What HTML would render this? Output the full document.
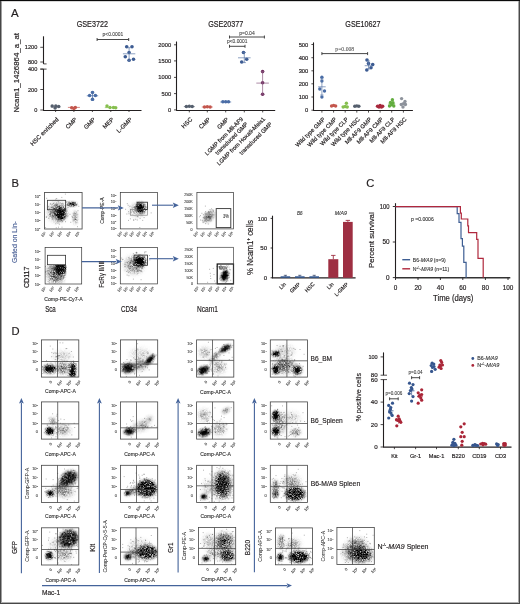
<!DOCTYPE html>
<html><head><meta charset="utf-8"><style>
html,body{margin:0;padding:0;background:#fff;width:520px;height:604px;overflow:hidden}
svg{display:block;font-family:"Liberation Sans", sans-serif;will-change:transform}
</style></head><body>
<svg width="520" height="604" viewBox="0 0 520 604">
<defs>
<filter id="bl" x="-50%" y="-50%" width="200%" height="200%"><feGaussianBlur stdDeviation="0.7"/></filter>
<filter id="bl2" x="-50%" y="-50%" width="200%" height="200%"><feGaussianBlur stdDeviation="1.2"/></filter>
<filter id="g1" x="-60%" y="-60%" width="220%" height="220%" color-interpolation-filters="sRGB"><feGaussianBlur in="SourceGraphic" stdDeviation="1.0" result="b"/><feTurbulence type="fractalNoise" baseFrequency="1.5" numOctaves="2" seed="3" result="n"/><feColorMatrix in="n" type="matrix" values="0 0 0 0 0  0 0 0 0 0  0 0 0 0 0  1.8 0 0 0 -0.3" result="na"/><feComposite in="b" in2="na" operator="arithmetic" k1="1.7" k2="0" k3="0" k4="0"/></filter><filter id="g2" x="-60%" y="-60%" width="220%" height="220%" color-interpolation-filters="sRGB"><feGaussianBlur in="SourceGraphic" stdDeviation="1.6" result="b"/><feTurbulence type="fractalNoise" baseFrequency="1.5" numOctaves="2" seed="3" result="n"/><feColorMatrix in="n" type="matrix" values="0 0 0 0 0  0 0 0 0 0  0 0 0 0 0  1.8 0 0 0 -0.3" result="na"/><feComposite in="b" in2="na" operator="arithmetic" k1="1.7" k2="0" k3="0" k4="0"/></filter><filter id="g3" x="-60%" y="-60%" width="220%" height="220%" color-interpolation-filters="sRGB"><feGaussianBlur in="SourceGraphic" stdDeviation="2.4" result="b"/><feTurbulence type="fractalNoise" baseFrequency="1.5" numOctaves="2" seed="3" result="n"/><feColorMatrix in="n" type="matrix" values="0 0 0 0 0  0 0 0 0 0  0 0 0 0 0  1.8 0 0 0 -0.3" result="na"/><feComposite in="b" in2="na" operator="arithmetic" k1="1.7" k2="0" k3="0" k4="0"/></filter>
</defs>
<rect x="0" y="0" width="520" height="604" fill="#fff"/>
<rect x="0" y="0" width="1" height="604" fill="#474747"/><rect x="1" y="1" width="1" height="602" fill="#a0a0a0"/>
<rect x="519" y="0" width="1" height="604" fill="#4a4a4a"/><rect x="518" y="1" width="1" height="602" fill="#a8a8a8"/>
<rect x="0" y="603" width="520" height="1" fill="#474747"/><rect x="1" y="602" width="518" height="1" fill="#b0b0b0"/>
<rect x="0" y="0" width="520" height="1" fill="#0a0a0a"/><rect x="2" y="1" width="516" height="1" fill="#d8d8d8"/>
<text x="11.1" y="16.5" font-size="11.5" fill="#231f20" stroke="#231f20" stroke-width="0.18">A</text>
<text x="76.7" y="26.5" font-size="8.2" fill="#231f20" stroke="#231f20" stroke-width="0.18" textLength="31.3" lengthAdjust="spacingAndGlyphs">GSE3722</text>
<line x1="43.5" y1="36.3" x2="43.5" y2="63.9" stroke="#231f20" stroke-width="1.1"/>
<line x1="43.5" y1="69.1" x2="43.5" y2="110.9" stroke="#231f20" stroke-width="1.1"/>
<line x1="43.5" y1="63.9" x2="46.6" y2="63.9" stroke="#231f20" stroke-width="0.8"/>
<line x1="40.3" y1="69.1" x2="46.6" y2="69.1" stroke="#231f20" stroke-width="0.8"/>
<line x1="40.3" y1="47.3" x2="43.5" y2="47.3" stroke="#231f20" stroke-width="0.8"/>
<text x="37.3" y="49.3" font-size="5.6" fill="#231f20" stroke="#231f20" stroke-width="0.18" text-anchor="end">1200</text>
<line x1="40.3" y1="62" x2="43.5" y2="62" stroke="#231f20" stroke-width="0.8"/>
<text x="37.3" y="64" font-size="5.6" fill="#231f20" stroke="#231f20" stroke-width="0.18" text-anchor="end">800</text>
<line x1="40.3" y1="69.1" x2="43.5" y2="69.1" stroke="#231f20" stroke-width="0.8"/>
<text x="37.3" y="71.1" font-size="5.6" fill="#231f20" stroke="#231f20" stroke-width="0.18" text-anchor="end">400</text>
<line x1="40.3" y1="89.5" x2="43.5" y2="89.5" stroke="#231f20" stroke-width="0.8"/>
<text x="37.3" y="91.5" font-size="5.6" fill="#231f20" stroke="#231f20" stroke-width="0.18" text-anchor="end">200</text>
<line x1="40.3" y1="110" x2="43.5" y2="110" stroke="#231f20" stroke-width="0.8"/>
<text x="37.3" y="112" font-size="5.6" fill="#231f20" stroke="#231f20" stroke-width="0.18" text-anchor="end">0</text>
<line x1="43.5" y1="110.5" x2="141.5" y2="110.5" stroke="#231f20" stroke-width="1.1"/>
<line x1="55.6" y1="110" x2="55.6" y2="112" stroke="#231f20" stroke-width="0.8"/>
<line x1="73.9" y1="110" x2="73.9" y2="112" stroke="#231f20" stroke-width="0.8"/>
<line x1="92.4" y1="110" x2="92.4" y2="112" stroke="#231f20" stroke-width="0.8"/>
<line x1="110.8" y1="110" x2="110.8" y2="112" stroke="#231f20" stroke-width="0.8"/>
<line x1="129" y1="110" x2="129" y2="112" stroke="#231f20" stroke-width="0.8"/>
<text x="19.5" y="72.8" font-size="7.3" fill="#231f20" stroke="#231f20" stroke-width="0.18" text-anchor="middle" transform="rotate(-90 19.5 72.8)" textLength="79.5" lengthAdjust="spacingAndGlyphs">Ncam1_1426864_a_at</text>
<circle cx="52.2" cy="105.9" r="1.75" fill="#56606e"/>
<circle cx="55.8" cy="105.9" r="1.75" fill="#56606e"/>
<circle cx="58.7" cy="106.4" r="1.75" fill="#56606e"/>
<circle cx="55.1" cy="108.1" r="1.75" fill="#56606e"/>
<line x1="50.8" y1="107" x2="60.4" y2="107" stroke="#56606e" stroke-width="0.7"/>
<circle cx="71.7" cy="107.8" r="1.75" fill="#c4574e"/>
<circle cx="75.3" cy="107.4" r="1.75" fill="#c4574e"/>
<circle cx="73.9" cy="108.6" r="1.75" fill="#c4574e"/>
<line x1="67.9" y1="107.4" x2="79.9" y2="107.4" stroke="#c4574e" stroke-width="0.7"/>
<circle cx="107" cy="105.9" r="1.75" fill="#86bf4f"/>
<circle cx="110" cy="107.4" r="1.75" fill="#86bf4f"/>
<circle cx="113.5" cy="107.4" r="1.75" fill="#86bf4f"/>
<circle cx="115.7" cy="107.8" r="1.75" fill="#86bf4f"/>
<line x1="104.8" y1="107.6" x2="116.8" y2="107.6" stroke="#86bf4f" stroke-width="0.7"/>
<circle cx="92.5" cy="92.5" r="1.75" fill="#4a6da6"/>
<circle cx="89.6" cy="95.4" r="1.75" fill="#4a6da6"/>
<circle cx="95.4" cy="95.4" r="1.75" fill="#4a6da6"/>
<circle cx="92.5" cy="99.2" r="1.75" fill="#4a6da6"/>
<line x1="86.8" y1="95.8" x2="98.2" y2="95.8" stroke="#4a6da6" stroke-width="0.7"/>
<line x1="92.5" y1="91.8" x2="92.5" y2="100.5" stroke="#4a6da6" stroke-width="0.7"/>
<line x1="90.9" y1="91.8" x2="94.1" y2="91.8" stroke="#4a6da6" stroke-width="0.7"/>
<line x1="90.9" y1="100.5" x2="94.1" y2="100.5" stroke="#4a6da6" stroke-width="0.7"/>
<circle cx="126.7" cy="46.8" r="1.8" fill="#3c5b92"/>
<circle cx="132" cy="46.8" r="1.8" fill="#3c5b92"/>
<circle cx="129.1" cy="52.5" r="1.8" fill="#3c5b92"/>
<circle cx="125.3" cy="56.7" r="1.8" fill="#3c5b92"/>
<circle cx="129.1" cy="60.2" r="1.8" fill="#3c5b92"/>
<circle cx="133.5" cy="59.3" r="1.8" fill="#3c5b92"/>
<line x1="122.9" y1="53.8" x2="135.3" y2="53.8" stroke="#5b78a8" stroke-width="0.7"/>
<line x1="129.1" y1="47.7" x2="129.1" y2="60.7" stroke="#5b78a8" stroke-width="0.7"/>
<line x1="127.5" y1="47.7" x2="130.7" y2="47.7" stroke="#5b78a8" stroke-width="0.7"/>
<line x1="127.5" y1="60.7" x2="130.7" y2="60.7" stroke="#5b78a8" stroke-width="0.7"/>
<line x1="97.1" y1="39.5" x2="128.7" y2="39.5" stroke="#333" stroke-width="0.9"/>
<line x1="97.1" y1="38" x2="97.1" y2="41" stroke="#333" stroke-width="0.9"/>
<line x1="128.7" y1="38" x2="128.7" y2="41" stroke="#333" stroke-width="0.9"/>
<text x="112.9" y="36.3" font-size="5" fill="#3a3a3a" stroke="#3a3a3a" stroke-width="0.07" text-anchor="middle" textLength="20.7" lengthAdjust="spacingAndGlyphs">p&lt;0.0001</text>
<text x="59.1" y="119.8" font-size="6" fill="#231f20" stroke="#231f20" stroke-width="0.18" text-anchor="end" transform="rotate(-45 59.1 119.8)">HSC enriched</text>
<text x="77.4" y="119.8" font-size="6" fill="#231f20" stroke="#231f20" stroke-width="0.18" text-anchor="end" transform="rotate(-45 77.4 119.8)">CMP</text>
<text x="95.9" y="119.8" font-size="6" fill="#231f20" stroke="#231f20" stroke-width="0.18" text-anchor="end" transform="rotate(-45 95.9 119.8)">GMP</text>
<text x="114.3" y="119.8" font-size="6" fill="#231f20" stroke="#231f20" stroke-width="0.18" text-anchor="end" transform="rotate(-45 114.3 119.8)">MEP</text>
<text x="132.5" y="119.8" font-size="6" fill="#231f20" stroke="#231f20" stroke-width="0.18" text-anchor="end" transform="rotate(-45 132.5 119.8)">L-GMP</text>
<text x="208.2" y="26.5" font-size="8.2" fill="#231f20" stroke="#231f20" stroke-width="0.18" textLength="35.1" lengthAdjust="spacingAndGlyphs">GSE20377</text>
<line x1="176.5" y1="41.5" x2="176.5" y2="110.9" stroke="#231f20" stroke-width="1.1"/>
<line x1="174" y1="44.8" x2="176.5" y2="44.8" stroke="#231f20" stroke-width="0.8"/>
<text x="171.2" y="46.8" font-size="5.8" fill="#231f20" stroke="#231f20" stroke-width="0.18" text-anchor="end">2000</text>
<line x1="174" y1="60.9" x2="176.5" y2="60.9" stroke="#231f20" stroke-width="0.8"/>
<text x="171.2" y="62.9" font-size="5.8" fill="#231f20" stroke="#231f20" stroke-width="0.18" text-anchor="end">1500</text>
<line x1="174" y1="77.4" x2="176.5" y2="77.4" stroke="#231f20" stroke-width="0.8"/>
<text x="171.2" y="79.4" font-size="5.8" fill="#231f20" stroke="#231f20" stroke-width="0.18" text-anchor="end">1000</text>
<line x1="174" y1="93.6" x2="176.5" y2="93.6" stroke="#231f20" stroke-width="0.8"/>
<text x="171.2" y="95.6" font-size="5.8" fill="#231f20" stroke="#231f20" stroke-width="0.18" text-anchor="end">500</text>
<line x1="174" y1="109.9" x2="176.5" y2="109.9" stroke="#231f20" stroke-width="0.8"/>
<text x="171.2" y="111.9" font-size="5.8" fill="#231f20" stroke="#231f20" stroke-width="0.18" text-anchor="end">0</text>
<line x1="176.5" y1="110.5" x2="275.2" y2="110.5" stroke="#231f20" stroke-width="1.1"/>
<line x1="189.3" y1="110" x2="189.3" y2="112.4" stroke="#231f20" stroke-width="0.8"/>
<line x1="207.3" y1="110" x2="207.3" y2="112.4" stroke="#231f20" stroke-width="0.8"/>
<line x1="225.7" y1="110" x2="225.7" y2="112.4" stroke="#231f20" stroke-width="0.8"/>
<line x1="244.3" y1="110" x2="244.3" y2="112.4" stroke="#231f20" stroke-width="0.8"/>
<line x1="262.7" y1="110" x2="262.7" y2="112.4" stroke="#231f20" stroke-width="0.8"/>
<circle cx="186.4" cy="106.4" r="1.75" fill="#56606e"/>
<circle cx="189.3" cy="106.2" r="1.75" fill="#56606e"/>
<circle cx="192.2" cy="106.4" r="1.75" fill="#56606e"/>
<line x1="183.8" y1="106.6" x2="194.8" y2="106.6" stroke="#56606e" stroke-width="0.7"/>
<circle cx="204.5" cy="107" r="1.75" fill="#c4574e"/>
<circle cx="207.3" cy="106.8" r="1.75" fill="#c4574e"/>
<circle cx="210.1" cy="107" r="1.75" fill="#c4574e"/>
<line x1="201.8" y1="107" x2="212.8" y2="107" stroke="#c4574e" stroke-width="0.7"/>
<circle cx="222.9" cy="101.8" r="1.75" fill="#4a6da6"/>
<circle cx="225.7" cy="101.8" r="1.75" fill="#4a6da6"/>
<circle cx="228.5" cy="101.8" r="1.75" fill="#4a6da6"/>
<line x1="220.2" y1="102" x2="231.2" y2="102" stroke="#4a6da6" stroke-width="0.7"/>
<circle cx="243.5" cy="52.5" r="1.8" fill="#3c5b92"/>
<circle cx="246.7" cy="59.3" r="1.8" fill="#3c5b92"/>
<circle cx="241.7" cy="62" r="1.8" fill="#3c5b92"/>
<line x1="238" y1="57.8" x2="250.6" y2="57.8" stroke="#5b78a8" stroke-width="0.7"/>
<line x1="244.3" y1="52.5" x2="244.3" y2="62.6" stroke="#5b78a8" stroke-width="0.7"/>
<line x1="242.7" y1="52.5" x2="245.9" y2="52.5" stroke="#5b78a8" stroke-width="0.7"/>
<line x1="242.7" y1="62.6" x2="245.9" y2="62.6" stroke="#5b78a8" stroke-width="0.7"/>
<circle cx="262.6" cy="71.6" r="1.8" fill="#6e2a5e"/>
<circle cx="262.6" cy="82.7" r="1.8" fill="#6e2a5e"/>
<circle cx="262.6" cy="94.2" r="1.8" fill="#6e2a5e"/>
<line x1="256.3" y1="83.1" x2="268.9" y2="83.1" stroke="#8a5a80" stroke-width="0.7"/>
<line x1="262.6" y1="71.6" x2="262.6" y2="94.2" stroke="#8a5a80" stroke-width="0.7"/>
<line x1="261" y1="71.6" x2="264.2" y2="71.6" stroke="#8a5a80" stroke-width="0.7"/>
<line x1="261" y1="94.2" x2="264.2" y2="94.2" stroke="#8a5a80" stroke-width="0.7"/>
<line x1="229.5" y1="46.3" x2="245" y2="46.3" stroke="#333" stroke-width="0.9"/>
<line x1="229.5" y1="44.8" x2="229.5" y2="47.8" stroke="#333" stroke-width="0.9"/>
<line x1="245" y1="44.8" x2="245" y2="47.8" stroke="#333" stroke-width="0.9"/>
<text x="237.25" y="43.4" font-size="5" fill="#3a3a3a" stroke="#3a3a3a" stroke-width="0.07" text-anchor="middle" textLength="20.5" lengthAdjust="spacingAndGlyphs">p&lt;0.0001</text>
<line x1="229.5" y1="37" x2="264.4" y2="37" stroke="#333" stroke-width="0.9"/>
<line x1="229.5" y1="35.5" x2="229.5" y2="38.5" stroke="#333" stroke-width="0.9"/>
<line x1="264.4" y1="35.5" x2="264.4" y2="38.5" stroke="#333" stroke-width="0.9"/>
<text x="246.95" y="34.5" font-size="5" fill="#3a3a3a" stroke="#3a3a3a" stroke-width="0.07" text-anchor="middle" textLength="15.5" lengthAdjust="spacingAndGlyphs">p=0.04</text>
<text x="192.8" y="119.8" font-size="6" fill="#231f20" stroke="#231f20" stroke-width="0.18" text-anchor="end" transform="rotate(-45 192.8 119.8)">HSC</text>
<text x="210.8" y="119.8" font-size="6" fill="#231f20" stroke="#231f20" stroke-width="0.18" text-anchor="end" transform="rotate(-45 210.8 119.8)">CMP</text>
<text x="229.2" y="119.8" font-size="6" fill="#231f20" stroke="#231f20" stroke-width="0.18" text-anchor="end" transform="rotate(-45 229.2 119.8)">GMP</text>
<text x="243.5" y="119.5" font-size="5.8" fill="#231f20" stroke="#231f20" stroke-width="0.18" text-anchor="end" transform="rotate(-45 243.5 119.5)">LGMP from Mll-AF9</text>
<text x="248.3" y="124.5" font-size="5.8" fill="#231f20" stroke="#231f20" stroke-width="0.18" text-anchor="end" transform="rotate(-45 248.3 124.5)">transduced GMP</text>
<text x="265.5" y="119.5" font-size="5.8" fill="#231f20" stroke="#231f20" stroke-width="0.18" text-anchor="end" transform="rotate(-45 265.5 119.5)">LGMP from Hoxa9-Meis1</text>
<text x="272.5" y="124.5" font-size="5.8" fill="#231f20" stroke="#231f20" stroke-width="0.18" text-anchor="end" transform="rotate(-45 272.5 124.5)">transduced GMP</text>
<text x="345.3" y="26.5" font-size="8.2" fill="#231f20" stroke="#231f20" stroke-width="0.18" textLength="35.1" lengthAdjust="spacingAndGlyphs">GSE10627</text>
<line x1="313.5" y1="42.4" x2="313.5" y2="110.9" stroke="#231f20" stroke-width="1.1"/>
<line x1="311.4" y1="44.5" x2="313.5" y2="44.5" stroke="#231f20" stroke-width="0.8"/>
<text x="308.3" y="46.5" font-size="5.8" fill="#231f20" stroke="#231f20" stroke-width="0.18" text-anchor="end">500</text>
<line x1="311.4" y1="57.7" x2="313.5" y2="57.7" stroke="#231f20" stroke-width="0.8"/>
<text x="308.3" y="59.7" font-size="5.8" fill="#231f20" stroke="#231f20" stroke-width="0.18" text-anchor="end">400</text>
<line x1="311.4" y1="70.8" x2="313.5" y2="70.8" stroke="#231f20" stroke-width="0.8"/>
<text x="308.3" y="72.8" font-size="5.8" fill="#231f20" stroke="#231f20" stroke-width="0.18" text-anchor="end">300</text>
<line x1="311.4" y1="83.8" x2="313.5" y2="83.8" stroke="#231f20" stroke-width="0.8"/>
<text x="308.3" y="85.8" font-size="5.8" fill="#231f20" stroke="#231f20" stroke-width="0.18" text-anchor="end">200</text>
<line x1="311.4" y1="97" x2="313.5" y2="97" stroke="#231f20" stroke-width="0.8"/>
<text x="308.3" y="99" font-size="5.8" fill="#231f20" stroke="#231f20" stroke-width="0.18" text-anchor="end">100</text>
<line x1="311.4" y1="110.2" x2="313.5" y2="110.2" stroke="#231f20" stroke-width="0.8"/>
<text x="308.3" y="112.2" font-size="5.8" fill="#231f20" stroke="#231f20" stroke-width="0.18" text-anchor="end">0</text>
<line x1="313.5" y1="110.5" x2="412.9" y2="110.5" stroke="#231f20" stroke-width="1.1"/>
<line x1="321.9" y1="110.2" x2="321.9" y2="112.6" stroke="#231f20" stroke-width="0.8"/>
<line x1="333.6" y1="110.2" x2="333.6" y2="112.6" stroke="#231f20" stroke-width="0.8"/>
<line x1="345.2" y1="110.2" x2="345.2" y2="112.6" stroke="#231f20" stroke-width="0.8"/>
<line x1="356.8" y1="110.2" x2="356.8" y2="112.6" stroke="#231f20" stroke-width="0.8"/>
<line x1="368.5" y1="110.2" x2="368.5" y2="112.6" stroke="#231f20" stroke-width="0.8"/>
<line x1="380.1" y1="110.2" x2="380.1" y2="112.6" stroke="#231f20" stroke-width="0.8"/>
<line x1="391.7" y1="110.2" x2="391.7" y2="112.6" stroke="#231f20" stroke-width="0.8"/>
<line x1="403.4" y1="110.2" x2="403.4" y2="112.6" stroke="#231f20" stroke-width="0.8"/>
<circle cx="321.9" cy="77.3" r="1.7" fill="#4a6da6"/>
<circle cx="321.9" cy="81.1" r="1.7" fill="#4a6da6"/>
<circle cx="319.8" cy="89" r="1.7" fill="#4a6da6"/>
<circle cx="324.5" cy="91" r="1.7" fill="#4a6da6"/>
<circle cx="321.9" cy="97" r="1.7" fill="#4a6da6"/>
<line x1="318.1" y1="86.8" x2="325.7" y2="86.8" stroke="#5b78a8" stroke-width="0.7"/>
<line x1="321.9" y1="79" x2="321.9" y2="95" stroke="#5b78a8" stroke-width="0.7"/>
<line x1="320.3" y1="79" x2="323.5" y2="79" stroke="#5b78a8" stroke-width="0.7"/>
<line x1="320.3" y1="95" x2="323.5" y2="95" stroke="#5b78a8" stroke-width="0.7"/>
<circle cx="331.6" cy="106" r="1.7" fill="#c4574e"/>
<circle cx="333.6" cy="105.4" r="1.7" fill="#c4574e"/>
<circle cx="335.6" cy="106" r="1.7" fill="#c4574e"/>
<line x1="330.1" y1="106" x2="337.1" y2="106" stroke="#c4574e" stroke-width="0.7"/>
<circle cx="343.2" cy="107" r="1.7" fill="#86bf4f"/>
<circle cx="345.2" cy="106.5" r="1.7" fill="#86bf4f"/>
<circle cx="347.2" cy="107" r="1.7" fill="#86bf4f"/>
<circle cx="346.4" cy="103.3" r="1.7" fill="#86bf4f"/>
<line x1="341.7" y1="106.5" x2="348.7" y2="106.5" stroke="#86bf4f" stroke-width="0.7"/>
<circle cx="354.8" cy="106.3" r="1.7" fill="#56606e"/>
<circle cx="356.8" cy="105.9" r="1.7" fill="#56606e"/>
<circle cx="358.8" cy="106.3" r="1.7" fill="#56606e"/>
<line x1="353.3" y1="106.3" x2="360.3" y2="106.3" stroke="#56606e" stroke-width="0.7"/>
<circle cx="367" cy="60" r="1.8" fill="#3c5b92"/>
<circle cx="368.5" cy="63.6" r="1.8" fill="#3c5b92"/>
<circle cx="372.7" cy="64.6" r="1.8" fill="#3c5b92"/>
<circle cx="371" cy="67.8" r="1.8" fill="#3c5b92"/>
<circle cx="366.8" cy="70" r="1.8" fill="#3c5b92"/>
<line x1="364.7" y1="65.7" x2="372.3" y2="65.7" stroke="#5b78a8" stroke-width="0.7"/>
<line x1="368.5" y1="61" x2="368.5" y2="69" stroke="#5b78a8" stroke-width="0.7"/>
<line x1="366.9" y1="61" x2="370.1" y2="61" stroke="#5b78a8" stroke-width="0.7"/>
<line x1="366.9" y1="69" x2="370.1" y2="69" stroke="#5b78a8" stroke-width="0.7"/>
<circle cx="377.6" cy="106.3" r="1.8" fill="#a8283c"/>
<circle cx="380.1" cy="105.6" r="1.8" fill="#a8283c"/>
<circle cx="382.6" cy="106.3" r="1.8" fill="#a8283c"/>
<circle cx="379" cy="107" r="1.8" fill="#a8283c"/>
<circle cx="381.5" cy="107" r="1.8" fill="#a8283c"/>
<circle cx="389.5" cy="106" r="1.7" fill="#62ad3f"/>
<circle cx="391.7" cy="104.8" r="1.7" fill="#62ad3f"/>
<circle cx="393.8" cy="106" r="1.7" fill="#62ad3f"/>
<circle cx="392.4" cy="99.7" r="1.7" fill="#62ad3f"/>
<circle cx="390.5" cy="102.5" r="1.7" fill="#62ad3f"/>
<circle cx="393" cy="102.8" r="1.7" fill="#62ad3f"/>
<line x1="388.2" y1="104" x2="395.2" y2="104" stroke="#62ad3f" stroke-width="0.7"/>
<circle cx="401.3" cy="104.5" r="1.7" fill="#8e939c"/>
<circle cx="403.4" cy="103.6" r="1.7" fill="#8e939c"/>
<circle cx="405.4" cy="104.5" r="1.7" fill="#8e939c"/>
<circle cx="401.6" cy="98.6" r="1.7" fill="#8e939c"/>
<circle cx="405" cy="101.5" r="1.7" fill="#8e939c"/>
<circle cx="403" cy="107" r="1.7" fill="#8e939c"/>
<line x1="399.9" y1="104" x2="406.9" y2="104" stroke="#8e939c" stroke-width="0.7"/>
<line x1="321.9" y1="53.6" x2="367.6" y2="53.6" stroke="#333" stroke-width="0.9"/>
<line x1="321.9" y1="52.1" x2="321.9" y2="55.1" stroke="#333" stroke-width="0.9"/>
<line x1="367.6" y1="52.1" x2="367.6" y2="55.1" stroke="#333" stroke-width="0.9"/>
<text x="344.75" y="51" font-size="5.2" fill="#444" stroke="#444" stroke-width="0.05" text-anchor="middle" textLength="18.8" lengthAdjust="spacingAndGlyphs" font-family='Liberation Serif'>p=0.008</text>
<text x="325.4" y="119.8" font-size="5.85" fill="#231f20" stroke="#231f20" stroke-width="0.18" text-anchor="end" transform="rotate(-45 325.4 119.8)">Wild type GMP</text>
<text x="337.1" y="119.8" font-size="5.85" fill="#231f20" stroke="#231f20" stroke-width="0.18" text-anchor="end" transform="rotate(-45 337.1 119.8)">Wild type CMP</text>
<text x="348.7" y="119.8" font-size="5.85" fill="#231f20" stroke="#231f20" stroke-width="0.18" text-anchor="end" transform="rotate(-45 348.7 119.8)">Wild type CLP</text>
<text x="360.3" y="119.8" font-size="5.85" fill="#231f20" stroke="#231f20" stroke-width="0.18" text-anchor="end" transform="rotate(-45 360.3 119.8)">Wild type HSC</text>
<text x="372" y="119.8" font-size="5.85" fill="#231f20" stroke="#231f20" stroke-width="0.18" text-anchor="end" transform="rotate(-45 372 119.8)">Mll-AF9 GMP</text>
<text x="383.6" y="119.8" font-size="5.85" fill="#231f20" stroke="#231f20" stroke-width="0.18" text-anchor="end" transform="rotate(-45 383.6 119.8)">Mll-AF9 CMP</text>
<text x="395.2" y="119.8" font-size="5.85" fill="#231f20" stroke="#231f20" stroke-width="0.18" text-anchor="end" transform="rotate(-45 395.2 119.8)">Mll-AF9 CLP</text>
<text x="406.9" y="119.8" font-size="5.85" fill="#231f20" stroke="#231f20" stroke-width="0.18" text-anchor="end" transform="rotate(-45 406.9 119.8)">Mll-AF9 HSC</text>
<text x="11.5" y="186.6" font-size="11.2" fill="#231f20" stroke="#231f20" stroke-width="0.18">B</text>
<clipPath id="c1"><rect x="44.5" y="192.5" width="37.6" height="36.5"/></clipPath>
<g clip-path="url(#c1)">
<ellipse cx="60.5" cy="213.5" rx="5.2" ry="6.5" fill="#000" fill-opacity="0.9" filter="url(#g2)"/>
<ellipse cx="57.5" cy="212" rx="8.5" ry="9" fill="#000" fill-opacity="0.42" filter="url(#g3)"/>
<ellipse cx="72" cy="204.2" rx="4.8" ry="1.9" fill="#000" fill-opacity="0.85" filter="url(#g1)"/>
<ellipse cx="75.3" cy="217.5" rx="1.8" ry="6.5" fill="#000" fill-opacity="0.4" filter="url(#g2)"/>
<path transform="scale(.1)" d="M605 2150h0m-19-45h0m-33 8h0m58 13h0m-44-30h0m42 42h0m-29 95h0m22-65h0m-20-43h0m5 5h0m1-10h0m62 47h0m-157-24h0m29-65h0m-13 37h0m72-35h0m-60 93h0m44-119h0m90 56h0m-104-10h0m114-78h0m-138 129h0m67-33h0m56 48h0m-40 7h0m128-119h0m-18 0h0m-31-34h0m51 123h0m40-36h0m-167 49h0m127-2h0m-117 60h0m-117-75h0m148-198h0m73 236h0m-20 46h0m49-29h0" stroke="#111" stroke-width="7" stroke-linecap="square" stroke-opacity="0.45"/>
<path transform="scale(.1)" d="M594 2092h0m30 60h0m-93-80h0m-24 37h0m139-13h0m-89 43h0m78-62h0m26 25h0m-21 89h0m14-22h0m-35-40h0m-15 39h0m-137-185h0m121 170h0m-11-104h0m-10-64h0m16 31h0m62 67h0m-8 38h0m-150-55h0m75 11h0m-21 33h0m6-24h0m52-4h0m29 100h0m160-119h0m-127-51h0m53 16h0m26 104h0m-40 11h0m-106 99h0m-80-167h0m156 92h0m-51-123h0m24 101h0m-23 127h0m60-113h0m-65-55h0" stroke="#111" stroke-width="7" stroke-linecap="square" stroke-opacity="0.45"/>
<path transform="scale(.1)" d="M587 2087h0m22 3h0m-76 34h0m70 17h0m1 37h0m54-118h0m-50 103h0m5-51h0m-60-16h0m39 21h0m5-36h0m-5 105h0m-36-127h0m8 47h0m28-44h0m-89 82h0m152 73h0m-83-151h0m-41 32h0m149-23h0m-217 95h0m41-132h0m111 62h0m-128 84h0m217-120h0m-25-46h0m50 25h0m2 157h0m25-63h0m-137-103h0m-1-60h0m104 189h0m-196 28h0m249 76h0m-148-203h0m-57 55h0m69 11h0m-76 148h0" stroke="#111" stroke-width="7" stroke-linecap="square" stroke-opacity="0.45"/>
<path transform="scale(.1)" d="M607 2200h0m-3-31h0m-48-21h0m-11-36h0m37 18h0m57 11h0m-41 27h0m12-91h0m20-39h0m-35 171h0m10-96h0m0 50h0m-20 109h0m35-117h0m17-22h0m-173 38h0m107-69h0m-36-68h0m4 87h0m-31 22h0m66-18h0m86-39h0m-95 35h0m72-10h0m38-57h0m74-26h0m-38 15h0m41 152h0m6-3h0m-179 17h0m-21-217h0m66 154h0m-66 92h0m20-26h0m18-76h0m-140 140h0m146-122h0" stroke="#111" stroke-width="7" stroke-linecap="square" stroke-opacity="0.45"/>
</g>
<rect x="47.4" y="200.3" width="18.2" height="9.4" fill="none" stroke="#333" stroke-width="0.8"/>
<rect x="44.5" y="192.5" width="37.6" height="36.5" fill="none" stroke="#555" stroke-width="0.9"/>
<text x="40.3" y="197.5" font-size="3.8" fill="#444" stroke="#444" stroke-width="0.1" text-anchor="end">10<tspan dy="-1.1" font-size="2.47">5</tspan></text>
<text x="40.3" y="205.9" font-size="3.8" fill="#444" stroke="#444" stroke-width="0.1" text-anchor="end">10<tspan dy="-1.1" font-size="2.47">4</tspan></text>
<text x="40.3" y="214.1" font-size="3.8" fill="#444" stroke="#444" stroke-width="0.1" text-anchor="end">10<tspan dy="-1.1" font-size="2.47">3</tspan></text>
<text x="40.3" y="222.4" font-size="3.8" fill="#444" stroke="#444" stroke-width="0.1" text-anchor="end">10<tspan dy="-1.1" font-size="2.47">2</tspan></text>
<text x="40.3" y="230.5" font-size="3.8" fill="#444" stroke="#444" stroke-width="0.1" text-anchor="end">10<tspan dy="-1.1" font-size="2.47">1</tspan></text>
<text x="46.6" y="233.2" font-size="3.8" fill="#444" stroke="#444" stroke-width="0.1" text-anchor="end" transform="rotate(-45 46.6 233.2)">10<tspan dy="-1.1" font-size="2.47">1</tspan></text>
<text x="54.7" y="233.2" font-size="3.8" fill="#444" stroke="#444" stroke-width="0.1" text-anchor="end" transform="rotate(-45 54.7 233.2)">10<tspan dy="-1.1" font-size="2.47">2</tspan></text>
<text x="62.8" y="233.2" font-size="3.8" fill="#444" stroke="#444" stroke-width="0.1" text-anchor="end" transform="rotate(-45 62.8 233.2)">10<tspan dy="-1.1" font-size="2.47">3</tspan></text>
<text x="71.5" y="233.2" font-size="3.8" fill="#444" stroke="#444" stroke-width="0.1" text-anchor="end" transform="rotate(-45 71.5 233.2)">10<tspan dy="-1.1" font-size="2.47">4</tspan></text>
<text x="80.2" y="233.2" font-size="3.8" fill="#444" stroke="#444" stroke-width="0.1" text-anchor="end" transform="rotate(-45 80.2 233.2)">10<tspan dy="-1.1" font-size="2.47">5</tspan></text>
<clipPath id="c2"><rect x="120.3" y="192.5" width="37.2" height="36.4"/></clipPath>
<g clip-path="url(#c2)">
<ellipse cx="140.6" cy="207.8" rx="2.42" ry="2.64" fill="#111" opacity="0.6" filter="url(#bl)"/>
<ellipse cx="140.6" cy="207.8" rx="4.4" ry="4.8" fill="#000" fill-opacity="1" filter="url(#g2)"/>
<ellipse cx="137.5" cy="210" rx="7" ry="6" fill="#000" fill-opacity="0.22" filter="url(#g3)"/>
<path transform="scale(.1)" d="M1423 2080h0m-24 2h0m57-15h0m-59 4h0m45 62h0m-65 34h0m9-54h0m20-10h0m-39-80h0m-77 114h0m135-25h0m-17 17h0m-71 73h0m104-26h0m14-75h0m-75-24h0m-82-14h0m113 46h0" stroke="#111" stroke-width="7" stroke-linecap="square" stroke-opacity="0.45"/>
<path transform="scale(.1)" d="M1395 2038h0m-42 32h0m33 15h0m-14 4h0m43 9h0m10-40h0m-66 40h0m-73 19h0m70-48h0m-7 2h0m42 61h0m-18 68h0m0-133h0m68 50h0m-71-77h0m-40 72h0m27 81h0" stroke="#111" stroke-width="7" stroke-linecap="square" stroke-opacity="0.45"/>
<path transform="scale(.1)" d="M1404 2109h0m-26 1h0m28-68h0m-41-4h0m105 33h0m-140 6h0m56 19h0m-113-59h0m125 238h0m-31-204h0m-30 49h0m-81-27h0m48 95h0m38-116h0m-5 127h0m20-91h0m-89 32h0" stroke="#111" stroke-width="7" stroke-linecap="square" stroke-opacity="0.45"/>
<path transform="scale(.1)" d="M1393 2070h0m-12 29h0m40 52h0m27-106h0m-62-16h0m4 62h0m11 93h0m19-52h0m-47-39h0m54 111h0m-145-151h0m89 111h0m17-138h0m124 103h0m-227 75h0m25-82h0m11-41h0" stroke="#111" stroke-width="7" stroke-linecap="square" stroke-opacity="0.45"/>
</g>
<rect x="130.4" y="209.4" width="17.1" height="5.8" fill="none" stroke="#888" stroke-width="0.7"/>
<rect x="137.2" y="202.2" width="10.3" height="7.2" fill="none" stroke="#222" stroke-width="0.8"/>
<rect x="120.3" y="192.5" width="37.2" height="36.4" fill="none" stroke="#333" stroke-width="0.7"/>
<text x="116.3" y="196.7" font-size="3.8" fill="#444" stroke="#444" stroke-width="0.1" text-anchor="end">10<tspan dy="-1.1" font-size="2.47">5</tspan></text>
<text x="116.3" y="203.2" font-size="3.8" fill="#444" stroke="#444" stroke-width="0.1" text-anchor="end">10<tspan dy="-1.1" font-size="2.47">4</tspan></text>
<text x="116.3" y="210.1" font-size="3.8" fill="#444" stroke="#444" stroke-width="0.1" text-anchor="end">10<tspan dy="-1.1" font-size="2.47">3</tspan></text>
<text x="116.3" y="217.1" font-size="3.8" fill="#444" stroke="#444" stroke-width="0.1" text-anchor="end">10<tspan dy="-1.1" font-size="2.47">2</tspan></text>
<text x="116.3" y="223.5" font-size="3.8" fill="#444" stroke="#444" stroke-width="0.1" text-anchor="end">10<tspan dy="-1.1" font-size="2.47">1</tspan></text>
<text x="116.3" y="230.4" font-size="3.8" fill="#444" stroke="#444" stroke-width="0.1" text-anchor="end">10<tspan dy="-1.1" font-size="2.47">0</tspan></text>
<text x="122.7" y="233.2" font-size="3.8" fill="#444" stroke="#444" stroke-width="0.1" text-anchor="end" transform="rotate(-45 122.7 233.2)">10<tspan dy="-1.1" font-size="2.47">0</tspan></text>
<text x="128.8" y="233.2" font-size="3.8" fill="#444" stroke="#444" stroke-width="0.1" text-anchor="end" transform="rotate(-45 128.8 233.2)">10<tspan dy="-1.1" font-size="2.47">1</tspan></text>
<text x="134.8" y="233.2" font-size="3.8" fill="#444" stroke="#444" stroke-width="0.1" text-anchor="end" transform="rotate(-45 134.8 233.2)">10<tspan dy="-1.1" font-size="2.47">2</tspan></text>
<text x="141.4" y="233.2" font-size="3.8" fill="#444" stroke="#444" stroke-width="0.1" text-anchor="end" transform="rotate(-45 141.4 233.2)">10<tspan dy="-1.1" font-size="2.47">3</tspan></text>
<text x="147.8" y="233.2" font-size="3.8" fill="#444" stroke="#444" stroke-width="0.1" text-anchor="end" transform="rotate(-45 147.8 233.2)">10<tspan dy="-1.1" font-size="2.47">4</tspan></text>
<text x="154.7" y="233.2" font-size="3.8" fill="#444" stroke="#444" stroke-width="0.1" text-anchor="end" transform="rotate(-45 154.7 233.2)">10<tspan dy="-1.1" font-size="2.47">5</tspan></text>
<text x="104.2" y="210.6" font-size="4.8" fill="#333" stroke="#333" stroke-width="0.12" text-anchor="middle" transform="rotate(-90 104.2 210.6)" textLength="26.5" lengthAdjust="spacingAndGlyphs">Comp-PE-A</text>
<clipPath id="c3"><rect x="196.9" y="192.5" width="36.6" height="36.4"/></clipPath>
<g clip-path="url(#c3)">
<ellipse cx="209.3" cy="216.5" rx="6.5" ry="3.8" fill="#000" fill-opacity="0.42" filter="url(#g2)" transform="rotate(-45 209.3 216.5)"/>
<path transform="scale(.1)" d="M2129 2098h0m-60 47h0m25-24h0m-32 91h0m-66-44h0m119-79h0m-88 121h0m7-63h0m33 40h0m69-75h0m-39 41h0m-10 14h0m0 9h0m-34-34h0m48 24h0m-52-35h0" stroke="#111" stroke-width="7" stroke-linecap="square" stroke-opacity="0.45"/>
<path transform="scale(.1)" d="M2102 2147h0m-11 23h0m-61 56h0m21-48h0m80-70h0m-126 92h0m49-139h0m29 179h0m-8-65h0m-21 23h0m29-35h0m-45 57h0m26-50h0m27 1h0m8 4h0" stroke="#111" stroke-width="7" stroke-linecap="square" stroke-opacity="0.45"/>
<path transform="scale(.1)" d="M2079 2203h0m29-89h0m-8-18h0m-2 34h0m-11 36h0m-31 70h0m14-104h0m26 7h0m-53 70h0m-1-33h0m-9-1h0m-11 27h0m22-39h0m21 6h0m-12 20h0" stroke="#111" stroke-width="7" stroke-linecap="square" stroke-opacity="0.45"/>
<path transform="scale(.1)" d="M2100 2182h0m-43-50h0m-16 56h0m47-57h0m-2 40h0m-4-46h0m4-10h0m-81 41h0m106 52h0m-59-57h0m7 18h0m-40-36h0m39 37h0m-2-54h0m55 49h0" stroke="#111" stroke-width="7" stroke-linecap="square" stroke-opacity="0.45"/>
</g>
<rect x="216.2" y="208.6" width="14.6" height="19" fill="none" stroke="#333" stroke-width="0.9"/>
<rect x="196.9" y="192.5" width="36.6" height="36.4" fill="none" stroke="#333" stroke-width="0.7"/>
<text x="223" y="218" font-size="5" fill="#444" stroke="#444" stroke-width="0.12" textLength="5.8" lengthAdjust="spacingAndGlyphs">3%</text>
<text x="192.6" y="196.3" font-size="3.6" fill="#444" stroke="#444" stroke-width="0.1" text-anchor="end">250K</text>
<text x="192.6" y="203.1" font-size="3.6" fill="#444" stroke="#444" stroke-width="0.1" text-anchor="end">200K</text>
<text x="192.6" y="209.6" font-size="3.6" fill="#444" stroke="#444" stroke-width="0.1" text-anchor="end">150K</text>
<text x="192.6" y="216.6" font-size="3.6" fill="#444" stroke="#444" stroke-width="0.1" text-anchor="end">100K</text>
<text x="192.6" y="223.5" font-size="3.6" fill="#444" stroke="#444" stroke-width="0.1" text-anchor="end">50K</text>
<text x="192.6" y="230.8" font-size="3.6" fill="#444" stroke="#444" stroke-width="0.1" text-anchor="end">0</text>
<text x="198.7" y="233.2" font-size="3.8" fill="#444" stroke="#444" stroke-width="0.1" text-anchor="end" transform="rotate(-45 198.7 233.2)">10<tspan dy="-1.1" font-size="2.47">0</tspan></text>
<text x="205.7" y="233.2" font-size="3.8" fill="#444" stroke="#444" stroke-width="0.1" text-anchor="end" transform="rotate(-45 205.7 233.2)">10<tspan dy="-1.1" font-size="2.47">1</tspan></text>
<text x="212.7" y="233.2" font-size="3.8" fill="#444" stroke="#444" stroke-width="0.1" text-anchor="end" transform="rotate(-45 212.7 233.2)">10<tspan dy="-1.1" font-size="2.47">2</tspan></text>
<text x="219.7" y="233.2" font-size="3.8" fill="#444" stroke="#444" stroke-width="0.1" text-anchor="end" transform="rotate(-45 219.7 233.2)">10<tspan dy="-1.1" font-size="2.47">3</tspan></text>
<text x="226.7" y="233.2" font-size="3.8" fill="#444" stroke="#444" stroke-width="0.1" text-anchor="end" transform="rotate(-45 226.7 233.2)">10<tspan dy="-1.1" font-size="2.47">4</tspan></text>
<text x="233.7" y="233.2" font-size="3.8" fill="#444" stroke="#444" stroke-width="0.1" text-anchor="end" transform="rotate(-45 233.7 233.2)">10<tspan dy="-1.1" font-size="2.47">5</tspan></text>
<clipPath id="c4"><rect x="45.1" y="247.5" width="36.6" height="36.5"/></clipPath>
<g clip-path="url(#c4)">
<clipPath id="c5"><rect x="40" y="264.9" width="26.3" height="25.1"/></clipPath><g clip-path="url(#c5)"><ellipse cx="61" cy="268" rx="6" ry="7" fill="#000" fill-opacity="0.85" filter="url(#g2)"/></g>
<clipPath id="c6"><rect x="40" y="264.9" width="26.3" height="25.1"/></clipPath><g clip-path="url(#c6)"><ellipse cx="56" cy="273" rx="8.5" ry="10" fill="#000" fill-opacity="0.45" filter="url(#g3)"/></g>
<path transform="scale(.1)" d="M622 2738h0m-11 29h0m12-33h0m-91-72h0m63 45h0m-17-29h0m21 75h0m43-48h0m-70 9h0m89-40h0m-16 5h0m-7-5h0m-11-19h0m0 8h0m-119 78h0m79-65h0m-14 76h0m-16-91h0m46-7h0m-30 53h0m55-33h0m-44 95h0m-127-49h0m101 89h0m-57-136h0m54 5h0m75 28h0m3 0h0m-24-43h0m-75 99h0m-32-39h0m-21 91h0m133-25h0m18-94h0m-48 95h0m-22-90h0m47 18h0m-54 94h0m3-37h0m66-59h0m-36-34h0m-24 61h0m91-77h0m-60 57h0" stroke="#111" stroke-width="7" stroke-linecap="square" stroke-opacity="0.45"/>
<path transform="scale(.1)" d="M640 2692h0m-68 9h0m44-36h0m-106-2h0m117 102h0m9 13h0m-75-107h0m59-15h0m-17 6h0m-42 24h0m9-24h0m58 121h0m-5-69h0m-91-16h0m78 38h0m-32-87h0m20 28h0m-8 30h0m-17-53h0m1 45h0m40-14h0m-141 43h0m82-38h0m-23-9h0m-59 30h0m125-12h0m18-1h0m-160 22h0m150 38h0m-63-10h0m57-83h0m-29 28h0m-2 52h0m-75 83h0m27-63h0m13 53h0m66-23h0m-102 12h0m123-77h0m-76-1h0m37 38h0m0-78h0m-4 29h0m32 19h0" stroke="#111" stroke-width="7" stroke-linecap="square" stroke-opacity="0.45"/>
<path transform="scale(.1)" d="M538 2727h0m78-41h0m-82 23h0m102-10h0m9-3h0m-51-18h0m-2 41h0m49-51h0m-59 73h0m12-50h0m-3 24h0m0-53h0m-72 50h0m51-49h0m-18-8h0m-19 24h0m55 6h0m4 41h0m35-16h0m-15 49h0m13-77h0m-81 73h0m22-60h0m41-35h0m-38 67h0m-79-43h0m116 21h0m-45 43h0m-57-16h0m48-72h0m19 6h0m6 126h0m45-84h0m-84 97h0m20-103h0m15 100h0m31-67h0m-58-57h0m77 63h0m-58-64h0m53 17h0m-101 31h0m39 55h0m-14 22h0" stroke="#111" stroke-width="7" stroke-linecap="square" stroke-opacity="0.45"/>
<path transform="scale(.1)" d="M651 2661h0m-53 56h0m0-22h0m-22-16h0m36 40h0m-4 28h0m-45-50h0m3-7h0m37 1h0m22-28h0m-40 144h0m63-102h0m-56-3h0m-16-39h0m36 12h0m41 40h0m-70-39h0m28 10h0m19-21h0m-79 37h0m83 68h0m-68-115h0m27 34h0m-62 49h0m77 41h0m39-24h0m-92 8h0m84-1h0m-51 30h0m-29 9h0m45-53h0m-42 26h0m-44-47h0m114-17h0m-102 35h0m102 36h0m-45 5h0m-5-110h0m-28 104h0m68-68h0m-85 59h0m-82-106h0m112 7h0" stroke="#111" stroke-width="7" stroke-linecap="square" stroke-opacity="0.45"/>
</g>
<rect x="47.4" y="255.3" width="18.2" height="9.4" fill="none" stroke="#333" stroke-width="0.8"/>
<rect x="45.1" y="247.5" width="36.6" height="36.5" fill="none" stroke="#333" stroke-width="0.7"/>
<text x="40.3" y="252.6" font-size="3.8" fill="#444" stroke="#444" stroke-width="0.1" text-anchor="end">10<tspan dy="-1.1" font-size="2.47">5</tspan></text>
<text x="40.3" y="260.8" font-size="3.8" fill="#444" stroke="#444" stroke-width="0.1" text-anchor="end">10<tspan dy="-1.1" font-size="2.47">4</tspan></text>
<text x="40.3" y="269.1" font-size="3.8" fill="#444" stroke="#444" stroke-width="0.1" text-anchor="end">10<tspan dy="-1.1" font-size="2.47">3</tspan></text>
<text x="40.3" y="277.4" font-size="3.8" fill="#444" stroke="#444" stroke-width="0.1" text-anchor="end">10<tspan dy="-1.1" font-size="2.47">2</tspan></text>
<text x="40.3" y="285.6" font-size="3.8" fill="#444" stroke="#444" stroke-width="0.1" text-anchor="end">10<tspan dy="-1.1" font-size="2.47">1</tspan></text>
<text x="46.6" y="288.3" font-size="3.8" fill="#444" stroke="#444" stroke-width="0.1" text-anchor="end" transform="rotate(-45 46.6 288.3)">10<tspan dy="-1.1" font-size="2.47">1</tspan></text>
<text x="54.8" y="288.3" font-size="3.8" fill="#444" stroke="#444" stroke-width="0.1" text-anchor="end" transform="rotate(-45 54.8 288.3)">10<tspan dy="-1.1" font-size="2.47">2</tspan></text>
<text x="63.1" y="288.3" font-size="3.8" fill="#444" stroke="#444" stroke-width="0.1" text-anchor="end" transform="rotate(-45 63.1 288.3)">10<tspan dy="-1.1" font-size="2.47">3</tspan></text>
<text x="71.4" y="288.3" font-size="3.8" fill="#444" stroke="#444" stroke-width="0.1" text-anchor="end" transform="rotate(-45 71.4 288.3)">10<tspan dy="-1.1" font-size="2.47">4</tspan></text>
<text x="79.7" y="288.3" font-size="3.8" fill="#444" stroke="#444" stroke-width="0.1" text-anchor="end" transform="rotate(-45 79.7 288.3)">10<tspan dy="-1.1" font-size="2.47">5</tspan></text>
<clipPath id="c7"><rect x="120.3" y="247.5" width="37.2" height="36.4"/></clipPath>
<g clip-path="url(#c7)">
<ellipse cx="139.8" cy="261.2" rx="3.08" ry="2.86" fill="#111" opacity="1" filter="url(#bl)"/>
<ellipse cx="139.8" cy="261.2" rx="5.6" ry="5.2" fill="#000" fill-opacity="1" filter="url(#g2)"/>
<ellipse cx="134" cy="265" rx="9" ry="8" fill="#000" fill-opacity="0.3" filter="url(#g3)"/>
<path transform="scale(.1)" d="M1383 2581h0m-22 15h0m-10-44h0m96 15h0m13-49h0m-14 11h0m-15 97h0m0-5h0m-52-56h0m34 49h0m-46-21h0m0-59h0m-6 116h0m-62-64h0m33 54h0m44 13h0m-159-72h0m119 69h0m47 54h0m-55-4h0m11-6h0m37 44h0m-22-164h0m24 135h0m-19-78h0m37 72h0m16-77h0m-114 64h0m36 101h0m82-125h0" stroke="#111" stroke-width="7" stroke-linecap="square" stroke-opacity="0.45"/>
<path transform="scale(.1)" d="M1387 2558h0m53 22h0m-71-55h0m66 132h0m-83-56h0m46-17h0m-29 108h0m20-101h0m7-14h0m-3 23h0m-23 18h0m26 35h0m15 144h0m-67-204h0m26 120h0m-99-85h0m178-109h0m-115 18h0m-28 168h0m-58-42h0m151-17h0m-61-71h0m41 138h0m34-4h0m-18-77h0m-35-105h0m-88 224h0m39-147h0m-14 115h0m7-96h0" stroke="#111" stroke-width="7" stroke-linecap="square" stroke-opacity="0.45"/>
<path transform="scale(.1)" d="M1403 2707h0m-34-60h0m60-60h0m-62-12h0m21 43h0m16 3h0m91-66h0m-106 36h0m1 62h0m40-83h0m-62 87h0m16-87h0m44 88h0m-92-2h0m-29-55h0m35 79h0m-25-17h0m13-64h0m89 119h0m-115-90h0m25-20h0m-41-31h0m30 39h0m104 67h0m-138 39h0m15-95h0m14-39h0m38 101h0m-14-45h0m34 35h0" stroke="#111" stroke-width="7" stroke-linecap="square" stroke-opacity="0.45"/>
<path transform="scale(.1)" d="M1446 2569h0m-12 28h0m-16 88h0m-25-135h0m16 54h0m-49-17h0m51 123h0m18-114h0m-16 36h0m41-19h0m-89-90h0m-76 234h0m75-70h0m134-88h0m-269-5h0m71 41h0m15-33h0m-12 62h0m131-23h0m-212-44h0m142 41h0m-96 77h0m52-51h0m-72-21h0m132 18h0m-99-1h0m73 11h0m-52-4h0m81 28h0m41-24h0" stroke="#111" stroke-width="7" stroke-linecap="square" stroke-opacity="0.45"/>
</g>
<rect x="134.1" y="255.1" width="13.4" height="10.2" fill="none" stroke="#222" stroke-width="0.8"/>
<rect x="120.3" y="247.5" width="37.2" height="36.4" fill="none" stroke="#333" stroke-width="0.7"/>
<text x="116.3" y="251.7" font-size="3.8" fill="#444" stroke="#444" stroke-width="0.1" text-anchor="end">10<tspan dy="-1.1" font-size="2.47">5</tspan></text>
<text x="116.3" y="258.3" font-size="3.8" fill="#444" stroke="#444" stroke-width="0.1" text-anchor="end">10<tspan dy="-1.1" font-size="2.47">4</tspan></text>
<text x="116.3" y="265.1" font-size="3.8" fill="#444" stroke="#444" stroke-width="0.1" text-anchor="end">10<tspan dy="-1.1" font-size="2.47">3</tspan></text>
<text x="116.3" y="272.1" font-size="3.8" fill="#444" stroke="#444" stroke-width="0.1" text-anchor="end">10<tspan dy="-1.1" font-size="2.47">2</tspan></text>
<text x="116.3" y="278.7" font-size="3.8" fill="#444" stroke="#444" stroke-width="0.1" text-anchor="end">10<tspan dy="-1.1" font-size="2.47">1</tspan></text>
<text x="116.3" y="285.4" font-size="3.8" fill="#444" stroke="#444" stroke-width="0.1" text-anchor="end">10<tspan dy="-1.1" font-size="2.47">0</tspan></text>
<text x="122.7" y="288.3" font-size="3.8" fill="#444" stroke="#444" stroke-width="0.1" text-anchor="end" transform="rotate(-45 122.7 288.3)">10<tspan dy="-1.1" font-size="2.47">0</tspan></text>
<text x="128.8" y="288.3" font-size="3.8" fill="#444" stroke="#444" stroke-width="0.1" text-anchor="end" transform="rotate(-45 128.8 288.3)">10<tspan dy="-1.1" font-size="2.47">1</tspan></text>
<text x="134.8" y="288.3" font-size="3.8" fill="#444" stroke="#444" stroke-width="0.1" text-anchor="end" transform="rotate(-45 134.8 288.3)">10<tspan dy="-1.1" font-size="2.47">2</tspan></text>
<text x="141.4" y="288.3" font-size="3.8" fill="#444" stroke="#444" stroke-width="0.1" text-anchor="end" transform="rotate(-45 141.4 288.3)">10<tspan dy="-1.1" font-size="2.47">3</tspan></text>
<text x="147.8" y="288.3" font-size="3.8" fill="#444" stroke="#444" stroke-width="0.1" text-anchor="end" transform="rotate(-45 147.8 288.3)">10<tspan dy="-1.1" font-size="2.47">4</tspan></text>
<text x="154.7" y="288.3" font-size="3.8" fill="#444" stroke="#444" stroke-width="0.1" text-anchor="end" transform="rotate(-45 154.7 288.3)">10<tspan dy="-1.1" font-size="2.47">5</tspan></text>
<clipPath id="c8"><rect x="197.3" y="247.3" width="36.2" height="36.6"/></clipPath>
<g clip-path="url(#c8)">
<ellipse cx="224.8" cy="275.6" rx="1.87" ry="3.08" fill="#111" opacity="1" filter="url(#bl)" transform="rotate(15 224.8 275.6)"/>
<ellipse cx="224.8" cy="275.6" rx="3.4" ry="5.6" fill="#000" fill-opacity="1" filter="url(#g1)" transform="rotate(15 224.8 275.6)"/>
<path transform="scale(.1)" d="M2258 2825h0m14-37h0m-37-37h0m3 36h0m-11-27h0m-28 21h0m21-42h0m37-11h0m-27-38h0m38-9h0m-30 11h0m-27-33h0m38 41h0m47-7h0m-101-10h0m71 132h0m-133-131h0m-57 139h0" stroke="#111" stroke-width="7" stroke-linecap="square" stroke-opacity="0.45"/>
<path transform="scale(.1)" d="M2268 2697h0m11 111h0m27-110h0m-109 92h0m86-12h0m24 25h0m-62-9h0m-53-124h0m83-3h0m-79 2h0m13 23h0m9 2h0m32-7h0m20-13h0m-100-9h0m-23 145h0m10 22h0m135-58h0" stroke="#111" stroke-width="7" stroke-linecap="square" stroke-opacity="0.45"/>
<path transform="scale(.1)" d="M2235 2690h0m13 57h0m16-26h0m-38 56h0m44-77h0m3 86h0m-19-12h0m-41-111h0m-5 33h0m25-7h0m6-25h0m26-5h0m-69 34h0m66 11h0m-35-31h0m-124 60h0m2 28h0m2 24h0" stroke="#111" stroke-width="7" stroke-linecap="square" stroke-opacity="0.45"/>
<path transform="scale(.1)" d="M2296 2732h0m-48 32h0m-5 27h0m38-139h0m-30 95h0m-42 57h0m34-105h0m-52-34h0m29 16h0m-29-8h0m26 17h0m73-19h0m-83-16h0m57 30h0m-124 60h0m65-57h0m-109 5h0" stroke="#111" stroke-width="7" stroke-linecap="square" stroke-opacity="0.45"/>
</g>
<rect x="217.2" y="264" width="16.3" height="19.9" fill="none" stroke="#111" stroke-width="1.2"/>
<rect x="197.3" y="247.3" width="36.2" height="36.6" fill="none" stroke="#444" stroke-width="0.7"/>
<text x="218.8" y="268.7" font-size="4.4" fill="#444" stroke="#444" stroke-width="0.12" textLength="8" lengthAdjust="spacingAndGlyphs">98%</text>
<text x="193" y="251.3" font-size="3.6" fill="#444" stroke="#444" stroke-width="0.1" text-anchor="end">250K</text>
<text x="193" y="258.1" font-size="3.6" fill="#444" stroke="#444" stroke-width="0.1" text-anchor="end">200K</text>
<text x="193" y="264.6" font-size="3.6" fill="#444" stroke="#444" stroke-width="0.1" text-anchor="end">150K</text>
<text x="193" y="271.6" font-size="3.6" fill="#444" stroke="#444" stroke-width="0.1" text-anchor="end">100K</text>
<text x="193" y="278.5" font-size="3.6" fill="#444" stroke="#444" stroke-width="0.1" text-anchor="end">50K</text>
<text x="193" y="285.3" font-size="3.6" fill="#444" stroke="#444" stroke-width="0.1" text-anchor="end">0</text>
<text x="199.2" y="288.3" font-size="3.8" fill="#444" stroke="#444" stroke-width="0.1" text-anchor="end" transform="rotate(-45 199.2 288.3)">10<tspan dy="-1.1" font-size="2.47">0</tspan></text>
<text x="206.2" y="288.3" font-size="3.8" fill="#444" stroke="#444" stroke-width="0.1" text-anchor="end" transform="rotate(-45 206.2 288.3)">10<tspan dy="-1.1" font-size="2.47">1</tspan></text>
<text x="213.2" y="288.3" font-size="3.8" fill="#444" stroke="#444" stroke-width="0.1" text-anchor="end" transform="rotate(-45 213.2 288.3)">10<tspan dy="-1.1" font-size="2.47">2</tspan></text>
<text x="220.2" y="288.3" font-size="3.8" fill="#444" stroke="#444" stroke-width="0.1" text-anchor="end" transform="rotate(-45 220.2 288.3)">10<tspan dy="-1.1" font-size="2.47">3</tspan></text>
<text x="227.2" y="288.3" font-size="3.8" fill="#444" stroke="#444" stroke-width="0.1" text-anchor="end" transform="rotate(-45 227.2 288.3)">10<tspan dy="-1.1" font-size="2.47">4</tspan></text>
<text x="234.2" y="288.3" font-size="3.8" fill="#444" stroke="#444" stroke-width="0.1" text-anchor="end" transform="rotate(-45 234.2 288.3)">10<tspan dy="-1.1" font-size="2.47">5</tspan></text>
<line x1="82.1" y1="207.9" x2="118.3" y2="207.9" stroke="#44639a" stroke-width="1.1"/>
<path d="M123.8 207.9L117.8 205.2L119 207.9L117.8 210.6z" fill="#44639a"/>
<line x1="152" y1="205.2" x2="173.3" y2="205.2" stroke="#44639a" stroke-width="1.1"/>
<path d="M178.8 205.2L172.8 202.5L174 205.2L172.8 207.9z" fill="#44639a"/>
<line x1="81.7" y1="261.6" x2="116.3" y2="261.6" stroke="#44639a" stroke-width="1.1"/>
<path d="M121.8 261.6L115.8 258.9L117 261.6L115.8 264.3z" fill="#44639a"/>
<line x1="149.2" y1="258.7" x2="173.3" y2="258.7" stroke="#44639a" stroke-width="1.1"/>
<path d="M178.8 258.7L172.8 256L174 258.7L172.8 261.4z" fill="#44639a"/>
<text x="16.9" y="242.1" font-size="6.9" fill="#4a6096" stroke="#4a6096" stroke-width="0.12" text-anchor="middle" transform="rotate(-90 16.9 242.1)" textLength="42" lengthAdjust="spacingAndGlyphs">Gated on Lin-</text>
<text x="28.6" y="277.3" font-size="7.6" fill="#231f20" stroke="#231f20" stroke-width="0.25" text-anchor="middle" transform="rotate(-90 28.6 277.3)" textLength="21.5" lengthAdjust="spacingAndGlyphs">CD117</text>
<text x="104.3" y="274.4" font-size="7" fill="#231f20" stroke="#231f20" stroke-width="0.18" text-anchor="middle" transform="rotate(-90 104.3 274.4)" textLength="26.5" lengthAdjust="spacingAndGlyphs">FcRγ II/III</text>
<text x="63.5" y="301.4" font-size="5" fill="#333" stroke="#333" stroke-width="0.12" text-anchor="middle" textLength="38.5" lengthAdjust="spacingAndGlyphs">Comp-PE-Cy7-A</text>
<text x="45.2" y="312.3" font-size="8.2" fill="#231f20" stroke="#231f20" stroke-width="0.18" textLength="10.6" lengthAdjust="spacingAndGlyphs">Sca</text>
<text x="121" y="312.3" font-size="8.2" fill="#231f20" stroke="#231f20" stroke-width="0.18" textLength="16.1" lengthAdjust="spacingAndGlyphs">CD34</text>
<text x="197" y="312.3" font-size="8.2" fill="#231f20" stroke="#231f20" stroke-width="0.18" textLength="20.8" lengthAdjust="spacingAndGlyphs">Ncam1</text>
<line x1="272.5" y1="215.7" x2="272.5" y2="278.4" stroke="#231f20" stroke-width="1.1"/>
<line x1="270.6" y1="218.4" x2="272.5" y2="218.4" stroke="#231f20" stroke-width="0.9"/>
<text x="267.1" y="220.5" font-size="6.1" fill="#231f20" stroke="#231f20" stroke-width="0.18" text-anchor="end" textLength="9.3" lengthAdjust="spacingAndGlyphs">100</text>
<line x1="270.6" y1="248" x2="272.5" y2="248" stroke="#231f20" stroke-width="0.9"/>
<text x="267.1" y="250.1" font-size="6.1" fill="#231f20" stroke="#231f20" stroke-width="0.18" text-anchor="end">50</text>
<line x1="270.6" y1="277.8" x2="272.5" y2="277.8" stroke="#231f20" stroke-width="0.9"/>
<text x="267.1" y="279.9" font-size="6.1" fill="#231f20" stroke="#231f20" stroke-width="0.18" text-anchor="end">0</text>
<line x1="272.5" y1="277.9" x2="355.6" y2="277.9" stroke="#231f20" stroke-width="1.2"/>
<rect x="280.6" y="276.3" width="9.6" height="1.5" fill="#2f5590" stroke="none" stroke-width="0"/>
<line x1="285.4" y1="275.2" x2="285.4" y2="276.3" stroke="#2a3a60" stroke-width="0.7"/>
<line x1="283.8" y1="275.3" x2="287" y2="275.3" stroke="#2a3a60" stroke-width="0.7"/>
<rect x="295" y="276.3" width="9.6" height="1.5" fill="#2f5590" stroke="none" stroke-width="0"/>
<line x1="299.8" y1="275.2" x2="299.8" y2="276.3" stroke="#2a3a60" stroke-width="0.7"/>
<line x1="298.2" y1="275.3" x2="301.4" y2="275.3" stroke="#2a3a60" stroke-width="0.7"/>
<rect x="309.4" y="276.3" width="9.6" height="1.5" fill="#2f5590" stroke="none" stroke-width="0"/>
<line x1="314.2" y1="275.2" x2="314.2" y2="276.3" stroke="#2a3a60" stroke-width="0.7"/>
<line x1="312.6" y1="275.3" x2="315.8" y2="275.3" stroke="#2a3a60" stroke-width="0.7"/>
<rect x="328.3" y="259.2" width="10" height="18.6" fill="#9e2f42" stroke="none" stroke-width="0"/>
<line x1="333.3" y1="259.2" x2="333.3" y2="255.4" stroke="#9e2f42" stroke-width="0.9"/>
<line x1="331.1" y1="255.4" x2="335.5" y2="255.4" stroke="#9e2f42" stroke-width="0.9"/>
<rect x="343" y="221.9" width="9.7" height="55.9" fill="#9e2f42" stroke="none" stroke-width="0"/>
<line x1="347.85" y1="221.9" x2="347.85" y2="220.4" stroke="#9e2f42" stroke-width="0.9"/>
<line x1="345.65" y1="220.4" x2="350.05" y2="220.4" stroke="#9e2f42" stroke-width="0.9"/>
<text x="286.3" y="284.6" font-size="5.4" fill="#231f20" stroke="#231f20" stroke-width="0.18" text-anchor="end" transform="rotate(-45 286.3 284.6)">Lin</text>
<text x="300.7" y="284.6" font-size="5.4" fill="#231f20" stroke="#231f20" stroke-width="0.18" text-anchor="end" transform="rotate(-45 300.7 284.6)">GMP</text>
<text x="315.1" y="284.6" font-size="5.4" fill="#231f20" stroke="#231f20" stroke-width="0.18" text-anchor="end" transform="rotate(-45 315.1 284.6)">HSC</text>
<text x="334.2" y="284.6" font-size="5.4" fill="#231f20" stroke="#231f20" stroke-width="0.18" text-anchor="end" transform="rotate(-45 334.2 284.6)">Lin</text>
<text x="348.8" y="284.6" font-size="5.4" fill="#231f20" stroke="#231f20" stroke-width="0.18" text-anchor="end" transform="rotate(-45 348.8 284.6)">L-GMP</text>
<text x="299.8" y="214.5" font-size="4.5" fill="#333" stroke="#333" stroke-width="0.1" text-anchor="middle" style="font-style:italic">B6</text>
<text x="340.8" y="214.5" font-size="4.5" fill="#333" stroke="#333" stroke-width="0.1" text-anchor="middle" textLength="12" lengthAdjust="spacingAndGlyphs" style="font-style:italic">M/A9</text>
<text x="252.5" y="247.5" font-size="8.2" fill="#231f20" stroke="#231f20" stroke-width="0.18" text-anchor="middle" transform="rotate(-90 252.5 247.5)" textLength="55" lengthAdjust="spacingAndGlyphs">% Ncam1<tspan dy="-2.6" font-size="4.5">+</tspan><tspan dy="2.6"> cells</tspan></text>
<text x="366.2" y="186.6" font-size="11.2" fill="#231f20" stroke="#231f20" stroke-width="0.18">C</text>
<line x1="395.5" y1="203.2" x2="395.5" y2="278.4" stroke="#231f20" stroke-width="1.1"/>
<line x1="392.8" y1="206.5" x2="395.5" y2="206.5" stroke="#231f20" stroke-width="0.9"/>
<text x="389.5" y="208.7" font-size="6.4" fill="#231f20" stroke="#231f20" stroke-width="0.18" text-anchor="end" textLength="9.8" lengthAdjust="spacingAndGlyphs">100</text>
<line x1="392.8" y1="242" x2="395.5" y2="242" stroke="#231f20" stroke-width="0.9"/>
<text x="389.5" y="244.2" font-size="6.4" fill="#231f20" stroke="#231f20" stroke-width="0.18" text-anchor="end">50</text>
<line x1="392.8" y1="277.6" x2="395.5" y2="277.6" stroke="#231f20" stroke-width="0.9"/>
<text x="389.5" y="279.8" font-size="6.4" fill="#231f20" stroke="#231f20" stroke-width="0.18" text-anchor="end">0</text>
<line x1="395.5" y1="277.8" x2="510.3" y2="277.8" stroke="#333" stroke-width="1.4"/>
<line x1="395.5" y1="277.8" x2="395.5" y2="280" stroke="#231f20" stroke-width="0.9"/>
<text x="395.5" y="290" font-size="6.4" fill="#231f20" stroke="#231f20" stroke-width="0.18" text-anchor="middle">0</text>
<line x1="418" y1="277.8" x2="418" y2="280" stroke="#231f20" stroke-width="0.9"/>
<text x="418" y="290" font-size="6.4" fill="#231f20" stroke="#231f20" stroke-width="0.18" text-anchor="middle">20</text>
<line x1="440.4" y1="277.8" x2="440.4" y2="280" stroke="#231f20" stroke-width="0.9"/>
<text x="440.4" y="290" font-size="6.4" fill="#231f20" stroke="#231f20" stroke-width="0.18" text-anchor="middle">40</text>
<line x1="462.8" y1="277.8" x2="462.8" y2="280" stroke="#231f20" stroke-width="0.9"/>
<text x="462.8" y="290" font-size="6.4" fill="#231f20" stroke="#231f20" stroke-width="0.18" text-anchor="middle">60</text>
<line x1="485.4" y1="277.8" x2="485.4" y2="280" stroke="#231f20" stroke-width="0.9"/>
<text x="485.4" y="290" font-size="6.4" fill="#231f20" stroke="#231f20" stroke-width="0.18" text-anchor="middle">80</text>
<line x1="508" y1="277.8" x2="508" y2="280" stroke="#231f20" stroke-width="0.9"/>
<text x="508" y="290" font-size="6.4" fill="#231f20" stroke="#231f20" stroke-width="0.18" text-anchor="middle">100</text>
<text x="453.2" y="301.3" font-size="8.3" fill="#231f20" stroke="#231f20" stroke-width="0.18" text-anchor="middle" textLength="40.4" lengthAdjust="spacingAndGlyphs">Time (days)</text>
<text x="374" y="240.1" font-size="7.4" fill="#231f20" stroke="#231f20" stroke-width="0.18" text-anchor="middle" transform="rotate(-90 374 240.1)" textLength="55.6" lengthAdjust="spacingAndGlyphs">Percent survival</text>
<text x="422.4" y="220.6" font-size="4.6" fill="#333" stroke="#333" stroke-width="0.1" text-anchor="middle" textLength="22.8" lengthAdjust="spacingAndGlyphs">p =0.0006</text>
<polyline points="395.5,206.6 457.2,206.6 457.2,213.6 459,213.6 459,222.4 461,222.4 461,238.7 462.4,238.7 462.4,246.2 463.8,246.2 463.8,262.4 466.1,262.4 466.1,277.8" fill="none" stroke="#3e5e93" stroke-width="1.2"/>
<polyline points="395.5,206.6 460.4,206.6 460.4,213.2 461.3,213.2 461.3,219 467.8,219 467.8,225.8 468.5,225.8 468.5,232.6 476.7,232.6 476.7,239.4 478,239.4 478,258.4 483.2,258.4 483.2,277.8" fill="none" stroke="#b0283d" stroke-width="1.2"/>
<line x1="402.3" y1="259.7" x2="410.1" y2="259.7" stroke="#3e5e93" stroke-width="1.4"/>
<line x1="402.3" y1="268.8" x2="410.1" y2="268.8" stroke="#b0283d" stroke-width="1.4"/>
<text x="412.8" y="261.6" font-size="4.8" fill="#333" stroke="#333" stroke-width="0.1" textLength="33" lengthAdjust="spacingAndGlyphs">B6-<tspan font-style="italic">M/A9</tspan> (n=9)</text>
<text x="412.8" y="270.6" font-size="4.8" fill="#333" stroke="#333" stroke-width="0.1" textLength="36.4" lengthAdjust="spacingAndGlyphs">N<tspan dy="-1.8" font-size="3">-/-</tspan><tspan dy="1.8" font-style="italic">-M/A9</tspan> (n=11)</text>
<text x="11.4" y="335.1" font-size="11.2" fill="#231f20" stroke="#231f20" stroke-width="0.18">D</text>
<clipPath id="c9"><rect x="41.5" y="339.9" width="37.3" height="37.2"/></clipPath>
<g clip-path="url(#c9)">
<ellipse cx="49.7" cy="368.9" rx="3.59" ry="2.2" fill="#111" opacity="0.72" filter="url(#bl)"/>
<ellipse cx="49.7" cy="368.9" rx="6.53" ry="4" fill="#000" fill-opacity="0.85" filter="url(#g2)"/>
<ellipse cx="72.4" cy="370" rx="3.2" ry="7" fill="#000" fill-opacity="0.9" filter="url(#g2)"/>
<ellipse cx="72.4" cy="373.5" rx="1.44" ry="1.91" fill="#111" opacity="0.54" filter="url(#bl)"/>
<ellipse cx="72.4" cy="373.5" rx="2.61" ry="3.48" fill="#000" fill-opacity="0.85" filter="url(#g1)"/>
<ellipse cx="63" cy="368" rx="6" ry="5" fill="#000" fill-opacity="0.45" filter="url(#g3)"/>
<ellipse cx="62" cy="356" rx="9" ry="4" fill="#000" fill-opacity="0.15" filter="url(#g3)"/>
<path transform="scale(.1)" d="M481 3713h0m-6-67h0m-24 65h0m14-105h0m-41 63h0m86-38h0m-30 43h0m12 46h0m-44-43h0m286 63h0m-14-32h0m2 21h0m36-93h0m-12-4h0m16 8h0m-38 65h0m-171-75h0m175 76h0m-189-33h0m38 31h0m35-35h0m-51-135h0m172 36h0m-130 121h0m-28-104h0m35 7h0m-8 39h0m-49-38h0m-50-134h0m157 25h0" stroke="#111" stroke-width="7" stroke-linecap="square" stroke-opacity="0.45"/>
<path transform="scale(.1)" d="M511 3697h0m-21-37h0m91 55h0m46 21h0m-107-40h0m-84 33h0m37-17h0m154 2h0m87 25h0m41-74h0m-20-41h0m-1-14h0m-15 67h0m22 17h0m-10 17h0m-17 43h0m-47-92h0m-53 46h0m3-45h0m-43 8h0m66 49h0m1-187h0m-65 25h0m3 57h0m93 0h0m-71-187h0m-83 98h0m196-11h0m-197 52h0m50 0h0" stroke="#111" stroke-width="7" stroke-linecap="square" stroke-opacity="0.45"/>
<path transform="scale(.1)" d="M527 3672h0m-25 31h0m-22 30h0m-33-39h0m109-3h0m-105 14h0m78-33h0m-34 12h0m219 6h0m20-37h0m39 109h0m-94-8h0m48-78h0m-67 24h0m83 35h0m-83-60h0m-13 52h0m2-80h0m-95 19h0m136-13h0m-162-5h0m100-76h0m-71-4h0m-21-35h0m200 89h0m-46-53h0m-47 43h0m99 56h0m-148-109h0m-66-69h0" stroke="#111" stroke-width="7" stroke-linecap="square" stroke-opacity="0.45"/>
<path transform="scale(.1)" d="M477 3637h0m-49 28h0m-5 69h0m64-42h0m125-24h0m-118-10h0m-41 39h0m2-35h0m263 76h0m-11-71h0m35 14h0m-9 13h0m29-43h0m-64 25h0m27 56h0m-126-51h0m61 0h0m-27-7h0m-5 10h0m-22 37h0m-56-194h0m20 37h0m121-31h0m-104 25h0m81-73h0m-83 95h0m5-26h0m-6 109h0m44-234h0" stroke="#111" stroke-width="7" stroke-linecap="square" stroke-opacity="0.45"/>
</g>
<line x1="57.5" y1="339.9" x2="57.5" y2="377.1" stroke="#333" stroke-width="0.7"/>
<line x1="41.5" y1="361.5" x2="78.8" y2="361.5" stroke="#333" stroke-width="0.7"/>
<rect x="41.5" y="339.9" width="37.3" height="37.2" fill="none" stroke="#444" stroke-width="0.8"/>
<text x="37.9" y="344.61" font-size="3.9" fill="#444" stroke="#444" stroke-width="0.1" text-anchor="end">10<tspan dy="-1.1" font-size="2.54">5</tspan></text>
<text x="37.9" y="353.28" font-size="3.9" fill="#444" stroke="#444" stroke-width="0.1" text-anchor="end">10<tspan dy="-1.1" font-size="2.54">4</tspan></text>
<text x="37.9" y="362.69" font-size="3.9" fill="#444" stroke="#444" stroke-width="0.1" text-anchor="end">10<tspan dy="-1.1" font-size="2.54">3</tspan></text>
<text x="37.9" y="371.13" font-size="3.9" fill="#444" stroke="#444" stroke-width="0.1" text-anchor="end">0</text>
<text x="52.38" y="382.1" font-size="3.9" fill="#444" stroke="#444" stroke-width="0.1" text-anchor="end" transform="rotate(-45 52.38 382.1)">0</text>
<text x="62.69" y="382.1" font-size="3.9" fill="#444" stroke="#444" stroke-width="0.1" text-anchor="end" transform="rotate(-45 62.69 382.1)">10<tspan dy="-1.1" font-size="2.54">3</tspan></text>
<text x="72.13" y="382.1" font-size="3.9" fill="#444" stroke="#444" stroke-width="0.1" text-anchor="end" transform="rotate(-45 72.13 382.1)">10<tspan dy="-1.1" font-size="2.54">4</tspan></text>
<text x="81.19" y="382.1" font-size="3.9" fill="#444" stroke="#444" stroke-width="0.1" text-anchor="end" transform="rotate(-45 81.19 382.1)">10<tspan dy="-1.1" font-size="2.54">5</tspan></text>
<clipPath id="c10"><rect x="120.5" y="339.9" width="37.2" height="37.2"/></clipPath>
<g clip-path="url(#c10)">
<ellipse cx="128" cy="368" rx="3.59" ry="2.63" fill="#111" opacity="0.72" filter="url(#bl)" transform="rotate(-10 128 368)"/>
<ellipse cx="128" cy="368" rx="6.53" ry="4.79" fill="#000" fill-opacity="0.85" filter="url(#g2)" transform="rotate(-10 128 368)"/>
<ellipse cx="149.8" cy="359.8" rx="3.59" ry="1.44" fill="#111" opacity="0.72" filter="url(#bl)" transform="rotate(-48 149.8 359.8)"/>
<ellipse cx="149.8" cy="359.8" rx="6.53" ry="2.61" fill="#000" fill-opacity="0.85" filter="url(#g1)" transform="rotate(-48 149.8 359.8)"/>
<ellipse cx="140" cy="365" rx="6" ry="4" fill="#000" fill-opacity="0.5" filter="url(#g3)" transform="rotate(-15 140 365)"/>
<ellipse cx="140" cy="354" rx="10" ry="5" fill="#000" fill-opacity="0.12" filter="url(#g3)"/>
<path transform="scale(.1)" d="M1231 3688h0m21-32h0m87 10h0m-118 48h0m87-63h0m-44 114h0m-29-140h0m88 23h0m-99 55h0m251-101h0m59-31h0m-13-20h0m-87 140h0m39-58h0m-5-12h0m-45-14h0m-61 71h0m62-40h0m30 30h0m-53-83h0m73-64h0m-97-29h0m185 59h0m-108 87h0m-101 19h0m33-76h0m-41 159h0m82-119h0" stroke="#111" stroke-width="7" stroke-linecap="square" stroke-opacity="0.45"/>
<path transform="scale(.1)" d="M1312 3695h0m-9 19h0m47-40h0m-51 13h0m12-80h0m-75 55h0m107 47h0m47-46h0m-47-12h0m166-62h0m15-36h0m-56 38h0m-24 36h0m81-18h0m-40 28h0m-27 35h0m-150-11h0m53-43h0m105 5h0m-3-56h0m67-31h0m-194 42h0m118 43h0m-94-115h0m18 90h0m53-59h0m89 94h0" stroke="#111" stroke-width="7" stroke-linecap="square" stroke-opacity="0.45"/>
<path transform="scale(.1)" d="M1227 3660h0m76 54h0m-25-67h0m28 1h0m6 18h0m-52-20h0m67 68h0m-73 0h0m-5 8h0m297-157h0m-66 80h0m-42-14h0m81-59h0m-21 56h0m-76 86h0m-52-76h0m10 9h0m-29 27h0m10 18h0m77-137h0m36-18h0m10-7h0m-176 69h0m225 20h0m-141-19h0m-37-4h0m40 157h0" stroke="#111" stroke-width="7" stroke-linecap="square" stroke-opacity="0.45"/>
<path transform="scale(.1)" d="M1238 3704h0m56 18h0m-23-12h0m-1-115h0m43 45h0m35 91h0m-111-50h0m133 1h0m-90-42h0m173 20h0m-21-52h0m60 8h0m-17 62h0m15-38h0m-81-18h0m-1 26h0m-4-37h0m-45 52h0m63 16h0m-5-131h0m-35 68h0m50 31h0m-56-210h0m116 262h0m8-90h0m-151-17h0m80 2h0" stroke="#111" stroke-width="7" stroke-linecap="square" stroke-opacity="0.45"/>
</g>
<line x1="136.5" y1="339.9" x2="136.5" y2="377.1" stroke="#333" stroke-width="0.7"/>
<line x1="120.5" y1="364.1" x2="157.7" y2="364.1" stroke="#333" stroke-width="0.7"/>
<rect x="120.5" y="339.9" width="37.2" height="37.2" fill="none" stroke="#444" stroke-width="0.8"/>
<text x="116.9" y="344.61" font-size="3.9" fill="#444" stroke="#444" stroke-width="0.1" text-anchor="end">10<tspan dy="-1.1" font-size="2.54">5</tspan></text>
<text x="116.9" y="353.28" font-size="3.9" fill="#444" stroke="#444" stroke-width="0.1" text-anchor="end">10<tspan dy="-1.1" font-size="2.54">4</tspan></text>
<text x="116.9" y="362.69" font-size="3.9" fill="#444" stroke="#444" stroke-width="0.1" text-anchor="end">10<tspan dy="-1.1" font-size="2.54">3</tspan></text>
<text x="116.9" y="371.13" font-size="3.9" fill="#444" stroke="#444" stroke-width="0.1" text-anchor="end">0</text>
<text x="131.36" y="382.1" font-size="3.9" fill="#444" stroke="#444" stroke-width="0.1" text-anchor="end" transform="rotate(-45 131.36 382.1)">0</text>
<text x="141.64" y="382.1" font-size="3.9" fill="#444" stroke="#444" stroke-width="0.1" text-anchor="end" transform="rotate(-45 141.64 382.1)">10<tspan dy="-1.1" font-size="2.54">3</tspan></text>
<text x="151.06" y="382.1" font-size="3.9" fill="#444" stroke="#444" stroke-width="0.1" text-anchor="end" transform="rotate(-45 151.06 382.1)">10<tspan dy="-1.1" font-size="2.54">4</tspan></text>
<text x="160.1" y="382.1" font-size="3.9" fill="#444" stroke="#444" stroke-width="0.1" text-anchor="end" transform="rotate(-45 160.1 382.1)">10<tspan dy="-1.1" font-size="2.54">5</tspan></text>
<clipPath id="c11"><rect x="196.6" y="339.9" width="37.2" height="37.2"/></clipPath>
<g clip-path="url(#c11)">
<ellipse cx="203.4" cy="370.2" rx="3.35" ry="2.11" fill="#111" opacity="0.72" filter="url(#bl)" transform="rotate(-25 203.4 370.2)"/>
<ellipse cx="203.4" cy="370.2" rx="6.09" ry="3.83" fill="#000" fill-opacity="0.85" filter="url(#g1)" transform="rotate(-25 203.4 370.2)"/>
<ellipse cx="225.4" cy="348.5" rx="3.35" ry="1.53" fill="#111" opacity="0.72" filter="url(#bl)" transform="rotate(-32 225.4 348.5)"/>
<ellipse cx="225.4" cy="348.5" rx="6.09" ry="2.78" fill="#000" fill-opacity="0.85" filter="url(#g1)" transform="rotate(-32 225.4 348.5)"/>
<ellipse cx="215" cy="357" rx="7" ry="2" fill="#000" fill-opacity="0.5" filter="url(#g2)" transform="rotate(-45 215 357)"/>
<ellipse cx="204.7" cy="352.4" rx="4.5" ry="4" fill="#000" fill-opacity="0.3" filter="url(#g3)"/>
<ellipse cx="219" cy="367.5" rx="5.5" ry="5" fill="#000" fill-opacity="0.3" filter="url(#g3)"/>
<path transform="scale(.1)" d="M2092 3674h0m-49 53h0m-32-36h0m-18 26h0m-16 30h0m138-38h0m-76 11h0m172-208h0m79 17h0m-46-29h0m-13 16h0m86-43h0m-127 44h0m-97 81h0m137-105h0m-198 81h0m78-79h0m80 167h0m-27-25h0m-21 77h0m-43-71h0m50 4h0m4-120h0m-23 111h0m89-26h0" stroke="#111" stroke-width="7" stroke-linecap="square" stroke-opacity="0.45"/>
<path transform="scale(.1)" d="M2110 3639h0m-38 10h0m-63 41h0m-10 50h0m45-48h0m-55-6h0m75-8h0m223-202h0m-52-30h0m3 27h0m-47 50h0m53-75h0m-101 129h0m13-27h0m-134-23h0m54 21h0m103 75h0m-19 7h0m-27 115h0m128-105h0m-177-217h0m209 172h0m-34-106h0m-42 134h0m-104 70h0" stroke="#111" stroke-width="7" stroke-linecap="square" stroke-opacity="0.45"/>
<path transform="scale(.1)" d="M2051 3663h0m-48 9h0m71 59h0m-38-35h0m54 19h0m-88-14h0m245-232h0m-15 27h0m-3 7h0m50-47h0m-1 5h0m-156 158h0m27-81h0m-78 129h0m-59-166h0m53 38h0m111 155h0m17-84h0m-58 123h0m-12-49h0m16-95h0m105 52h0m11 35h0m-16-121h0m-85-71h0" stroke="#111" stroke-width="7" stroke-linecap="square" stroke-opacity="0.45"/>
<path transform="scale(.1)" d="M2105 3658h0m-67 39h0m-15 26h0m23-35h0m-67 15h0m85-36h0m265-213h0m-122 66h0m-11-20h0m23-27h0m32-14h0m-34 51h0m-18 39h0m-48 10h0m-91-52h0m36 16h0m154 127h0m-55 26h0m20-15h0m-35 99h0m142-187h0m-199 33h0m19-67h0m29-64h0m-68 131h0" stroke="#111" stroke-width="7" stroke-linecap="square" stroke-opacity="0.45"/>
</g>
<line x1="212.5" y1="339.9" x2="212.5" y2="377.1" stroke="#333" stroke-width="0.7"/>
<line x1="196.6" y1="360.4" x2="233.8" y2="360.4" stroke="#333" stroke-width="0.7"/>
<rect x="196.6" y="339.9" width="37.2" height="37.2" fill="none" stroke="#444" stroke-width="0.8"/>
<text x="193" y="344.61" font-size="3.9" fill="#444" stroke="#444" stroke-width="0.1" text-anchor="end">10<tspan dy="-1.1" font-size="2.54">5</tspan></text>
<text x="193" y="353.28" font-size="3.9" fill="#444" stroke="#444" stroke-width="0.1" text-anchor="end">10<tspan dy="-1.1" font-size="2.54">4</tspan></text>
<text x="193" y="362.69" font-size="3.9" fill="#444" stroke="#444" stroke-width="0.1" text-anchor="end">10<tspan dy="-1.1" font-size="2.54">3</tspan></text>
<text x="193" y="371.13" font-size="3.9" fill="#444" stroke="#444" stroke-width="0.1" text-anchor="end">0</text>
<text x="207.46" y="382.1" font-size="3.9" fill="#444" stroke="#444" stroke-width="0.1" text-anchor="end" transform="rotate(-45 207.46 382.1)">0</text>
<text x="217.74" y="382.1" font-size="3.9" fill="#444" stroke="#444" stroke-width="0.1" text-anchor="end" transform="rotate(-45 217.74 382.1)">10<tspan dy="-1.1" font-size="2.54">3</tspan></text>
<text x="227.16" y="382.1" font-size="3.9" fill="#444" stroke="#444" stroke-width="0.1" text-anchor="end" transform="rotate(-45 227.16 382.1)">10<tspan dy="-1.1" font-size="2.54">4</tspan></text>
<text x="236.2" y="382.1" font-size="3.9" fill="#444" stroke="#444" stroke-width="0.1" text-anchor="end" transform="rotate(-45 236.2 382.1)">10<tspan dy="-1.1" font-size="2.54">5</tspan></text>
<clipPath id="c12"><rect x="270.3" y="339.9" width="37.2" height="37.2"/></clipPath>
<g clip-path="url(#c12)">
<ellipse cx="275.8" cy="353.7" rx="2.15" ry="1.53" fill="#111" opacity="0.81" filter="url(#bl)"/>
<ellipse cx="275.8" cy="353.7" rx="3.92" ry="2.78" fill="#000" fill-opacity="0.85" filter="url(#g1)"/>
<ellipse cx="276.1" cy="369.7" rx="1.91" ry="2.3" fill="#111" opacity="0.63" filter="url(#bl)"/>
<ellipse cx="276.1" cy="369.7" rx="3.48" ry="4.18" fill="#000" fill-opacity="0.85" filter="url(#g1)"/>
<ellipse cx="297.3" cy="370.2" rx="2.3" ry="2.39" fill="#111" opacity="0.81" filter="url(#bl)"/>
<ellipse cx="297.3" cy="370.2" rx="4.18" ry="4.35" fill="#000" fill-opacity="0.85" filter="url(#g2)"/>
<ellipse cx="284" cy="365.5" rx="9" ry="7" fill="#000" fill-opacity="0.45" filter="url(#g3)"/>
<ellipse cx="285" cy="351" rx="9" ry="5" fill="#000" fill-opacity="0.15" filter="url(#g3)"/>
<path transform="scale(.1)" d="M2751 3544h0m41 8h0m-20-2h0m39-53h0m-68 215h0m-11-32h0m78 37h0m-47-39h0m178-13h0m23 29h0m14 37h0m-49-33h0m39 7h0m15-26h0m-99 15h0m-58-91h0m-21 48h0m61-10h0m-53 53h0m-4-66h0m87-12h0m-44 41h0m6-22h0m-19 70h0m-44-91h0m28-16h0m53-97h0m165 42h0m-152 90h0m49-149h0m9 115h0m-112-138h0m-11 53h0m-22 64h0" stroke="#111" stroke-width="7" stroke-linecap="square" stroke-opacity="0.45"/>
<path transform="scale(.1)" d="M2777 3564h0m-47-42h0m44 25h0m22-15h0m-73 210h0m38-51h0m-8-45h0m10 95h0m167-85h0m21 109h0m27-49h0m-30-33h0m3-4h0m9 58h0m-15-137h0m-213 6h0m127-8h0m50 57h0m-25 68h0m9-59h0m23-20h0m-114-181h0m26 185h0m-5 11h0m129-19h0m-75-109h0m-106-75h0m46 54h0m183-15h0m-114 66h0m-42 10h0m108-76h0m-188 144h0" stroke="#111" stroke-width="7" stroke-linecap="square" stroke-opacity="0.45"/>
<path transform="scale(.1)" d="M2729 3570h0m15-34h0m59 11h0m-53-30h0m18 172h0m-44 0h0m0-45h0m19 42h0m199 47h0m-29-19h0m82-78h0m8 40h0m29-13h0m-253 68h0m141-96h0m18 123h0m-165-98h0m47 2h0m-94-28h0m35 91h0m25-90h0m60-80h0m-43 69h0m25 55h0m-8 53h0m18-275h0m-10-2h0m26 202h0m-25-188h0m48 96h0m-47 80h0m101-31h0m-83-3h0" stroke="#111" stroke-width="7" stroke-linecap="square" stroke-opacity="0.45"/>
<path transform="scale(.1)" d="M2731 3543h0m61-33h0m-9 39h0m-71 136h0m30-13h0m-4 30h0m42-29h0m168 58h0m33-65h0m2 17h0m21 52h0m-35-95h0m-29 36h0m-4-17h0m-148 1h0m96 57h0m-66-118h0m10 21h0m-16 44h0m95-39h0m-119 40h0m68 49h0m-78 3h0m118-49h0m27-138h0m-163-5h0m151 28h0m14 74h0m91 57h0m-99-136h0m-71 56h0m-125-100h0m110 100h0" stroke="#111" stroke-width="7" stroke-linecap="square" stroke-opacity="0.45"/>
</g>
<line x1="286.9" y1="339.9" x2="286.9" y2="377.1" stroke="#333" stroke-width="0.7"/>
<line x1="270.3" y1="360.8" x2="307.5" y2="360.8" stroke="#333" stroke-width="0.7"/>
<rect x="270.3" y="339.9" width="37.2" height="37.2" fill="none" stroke="#444" stroke-width="0.8"/>
<text x="266.7" y="344.61" font-size="3.9" fill="#444" stroke="#444" stroke-width="0.1" text-anchor="end">10<tspan dy="-1.1" font-size="2.54">5</tspan></text>
<text x="266.7" y="353.28" font-size="3.9" fill="#444" stroke="#444" stroke-width="0.1" text-anchor="end">10<tspan dy="-1.1" font-size="2.54">4</tspan></text>
<text x="266.7" y="362.69" font-size="3.9" fill="#444" stroke="#444" stroke-width="0.1" text-anchor="end">10<tspan dy="-1.1" font-size="2.54">3</tspan></text>
<text x="266.7" y="371.13" font-size="3.9" fill="#444" stroke="#444" stroke-width="0.1" text-anchor="end">0</text>
<text x="281.16" y="382.1" font-size="3.9" fill="#444" stroke="#444" stroke-width="0.1" text-anchor="end" transform="rotate(-45 281.16 382.1)">0</text>
<text x="291.44" y="382.1" font-size="3.9" fill="#444" stroke="#444" stroke-width="0.1" text-anchor="end" transform="rotate(-45 291.44 382.1)">10<tspan dy="-1.1" font-size="2.54">3</tspan></text>
<text x="300.86" y="382.1" font-size="3.9" fill="#444" stroke="#444" stroke-width="0.1" text-anchor="end" transform="rotate(-45 300.86 382.1)">10<tspan dy="-1.1" font-size="2.54">4</tspan></text>
<text x="309.9" y="382.1" font-size="3.9" fill="#444" stroke="#444" stroke-width="0.1" text-anchor="end" transform="rotate(-45 309.9 382.1)">10<tspan dy="-1.1" font-size="2.54">5</tspan></text>
<text x="60.4" y="393.4" font-size="5" fill="#333" stroke="#333" stroke-width="0.12" text-anchor="middle" textLength="30.8" lengthAdjust="spacingAndGlyphs">Comp-APC-A</text>
<text x="215.4" y="393.6" font-size="5" fill="#333" stroke="#333" stroke-width="0.12" text-anchor="middle" textLength="30.8" lengthAdjust="spacingAndGlyphs">Comp-APC-A</text>
<clipPath id="c13"><rect x="41.5" y="401.9" width="37.3" height="37.2"/></clipPath>
<g clip-path="url(#c13)">
<ellipse cx="49.7" cy="430.9" rx="2.39" ry="2.06" fill="#111" opacity="0.85" filter="url(#bl)"/>
<ellipse cx="49.7" cy="430.9" rx="4.35" ry="3.74" fill="#000" fill-opacity="0.85" filter="url(#g1)"/>
<ellipse cx="63" cy="430" rx="7" ry="3.5" fill="#000" fill-opacity="0.35" filter="url(#g3)"/>
<ellipse cx="52.5" cy="421" rx="3" ry="3.5" fill="#000" fill-opacity="0.3" filter="url(#g2)"/>
<path transform="scale(.1)" d="M516 4310h0m-1 69h0m27-77h0m-52 29h0m42-25h0m-57-54h0m243 97h0m-119-71h0m51-28h0m-19 50h0m-94-63h0m-82 80h0m35-40h0m81-134h0m60 98h0m111-8h0m-137 73h0" stroke="#111" stroke-width="7" stroke-linecap="square" stroke-opacity="0.45"/>
<path transform="scale(.1)" d="M482 4279h0m5 39h0m-15-15h0m89 26h0m-56-15h0m-6-5h0m68 18h0m23-30h0m-1-12h0m-48-87h0m5 22h0m62-29h0m-36 155h0m58-12h0m47-58h0m-120-9h0m10 8h0" stroke="#111" stroke-width="7" stroke-linecap="square" stroke-opacity="0.45"/>
<path transform="scale(.1)" d="M502 4319h0m7-82h0m-7 56h0m4 49h0m1-27h0m-65 13h0m211-17h0m-99-38h0m78 12h0m-82-63h0m111 34h0m-75-50h0m-60-68h0m-60 171h0m93-23h0m-68-104h0m151 14h0" stroke="#111" stroke-width="7" stroke-linecap="square" stroke-opacity="0.45"/>
<path transform="scale(.1)" d="M489 4287h0m12 2h0m-6-18h0m35 85h0m-59-106h0m54 62h0m154-31h0m-19 17h0m19 0h0m-151-87h0m160 38h0m59 26h0m-142-42h0m-45 134h0m4-206h0m1 63h0" stroke="#111" stroke-width="7" stroke-linecap="square" stroke-opacity="0.45"/>
</g>
<line x1="57.7" y1="401.9" x2="57.7" y2="439.1" stroke="#333" stroke-width="0.7"/>
<line x1="41.5" y1="423.8" x2="78.8" y2="423.8" stroke="#333" stroke-width="0.7"/>
<rect x="41.5" y="401.9" width="37.3" height="37.2" fill="none" stroke="#444" stroke-width="0.8"/>
<text x="37.9" y="406.61" font-size="3.9" fill="#444" stroke="#444" stroke-width="0.1" text-anchor="end">10<tspan dy="-1.1" font-size="2.54">5</tspan></text>
<text x="37.9" y="415.28" font-size="3.9" fill="#444" stroke="#444" stroke-width="0.1" text-anchor="end">10<tspan dy="-1.1" font-size="2.54">4</tspan></text>
<text x="37.9" y="424.69" font-size="3.9" fill="#444" stroke="#444" stroke-width="0.1" text-anchor="end">10<tspan dy="-1.1" font-size="2.54">3</tspan></text>
<text x="37.9" y="433.13" font-size="3.9" fill="#444" stroke="#444" stroke-width="0.1" text-anchor="end">0</text>
<text x="52.38" y="444.1" font-size="3.9" fill="#444" stroke="#444" stroke-width="0.1" text-anchor="end" transform="rotate(-45 52.38 444.1)">0</text>
<text x="62.69" y="444.1" font-size="3.9" fill="#444" stroke="#444" stroke-width="0.1" text-anchor="end" transform="rotate(-45 62.69 444.1)">10<tspan dy="-1.1" font-size="2.54">3</tspan></text>
<text x="72.13" y="444.1" font-size="3.9" fill="#444" stroke="#444" stroke-width="0.1" text-anchor="end" transform="rotate(-45 72.13 444.1)">10<tspan dy="-1.1" font-size="2.54">4</tspan></text>
<text x="81.19" y="444.1" font-size="3.9" fill="#444" stroke="#444" stroke-width="0.1" text-anchor="end" transform="rotate(-45 81.19 444.1)">10<tspan dy="-1.1" font-size="2.54">5</tspan></text>
<clipPath id="c14"><rect x="120.5" y="401.9" width="37.2" height="37.2"/></clipPath>
<g clip-path="url(#c14)">
<ellipse cx="129.1" cy="431.3" rx="2.97" ry="1.87" fill="#111" opacity="0.85" filter="url(#bl)" transform="rotate(-10 129.1 431.3)"/>
<ellipse cx="129.1" cy="431.3" rx="5.39" ry="3.39" fill="#000" fill-opacity="0.85" filter="url(#g1)" transform="rotate(-10 129.1 431.3)"/>
<ellipse cx="141" cy="426" rx="8" ry="3.5" fill="#000" fill-opacity="0.35" filter="url(#g3)" transform="rotate(-15 141 426)"/>
<ellipse cx="149" cy="419" rx="4" ry="2.5" fill="#000" fill-opacity="0.2" filter="url(#g2)" transform="rotate(-30 149 419)"/>
<path transform="scale(.1)" d="M1296 4288h0m23 17h0m-40 13h0m76-17h0m-14-7h0m17 6h0m-53 6h0m19-17h0m41-48h0m85-26h0m-27 3h0m77-24h0m-43 74h0m61-2h0m-88 26h0m47-21h0m-15 5h0" stroke="#111" stroke-width="7" stroke-linecap="square" stroke-opacity="0.45"/>
<path transform="scale(.1)" d="M1335 4317h0m-72 25h0m-4-35h0m51 25h0m-44-92h0m59 48h0m-65 42h0m190-63h0m26 5h0m-60-18h0m-6 18h0m160-1h0m-25-17h0m-127-6h0m22 29h0m-169-12h0m57-57h0" stroke="#111" stroke-width="7" stroke-linecap="square" stroke-opacity="0.45"/>
<path transform="scale(.1)" d="M1286 4279h0m31 14h0m-26 59h0m22 19h0m21-45h0m-52 16h0m-14-66h0m69-5h0m90-32h0m-80 44h0m160-80h0m-177 77h0m167-91h0m-152 128h0m-39-51h0m-1-67h0m10 14h0" stroke="#111" stroke-width="7" stroke-linecap="square" stroke-opacity="0.45"/>
<path transform="scale(.1)" d="M1292 4293h0m44 4h0m14-1h0m-55-15h0m32 51h0m-26-55h0m57 45h0m66-44h0m10-22h0m-25-7h0m36-65h0m-113-18h0m-43 145h0m164-46h0m-63 20h0m54-60h0" stroke="#111" stroke-width="7" stroke-linecap="square" stroke-opacity="0.45"/>
</g>
<line x1="136.5" y1="401.9" x2="136.5" y2="439.1" stroke="#333" stroke-width="0.7"/>
<line x1="120.5" y1="427.8" x2="157.7" y2="427.8" stroke="#333" stroke-width="0.7"/>
<rect x="120.5" y="401.9" width="37.2" height="37.2" fill="none" stroke="#444" stroke-width="0.8"/>
<text x="116.9" y="406.61" font-size="3.9" fill="#444" stroke="#444" stroke-width="0.1" text-anchor="end">10<tspan dy="-1.1" font-size="2.54">5</tspan></text>
<text x="116.9" y="415.28" font-size="3.9" fill="#444" stroke="#444" stroke-width="0.1" text-anchor="end">10<tspan dy="-1.1" font-size="2.54">4</tspan></text>
<text x="116.9" y="424.69" font-size="3.9" fill="#444" stroke="#444" stroke-width="0.1" text-anchor="end">10<tspan dy="-1.1" font-size="2.54">3</tspan></text>
<text x="116.9" y="433.13" font-size="3.9" fill="#444" stroke="#444" stroke-width="0.1" text-anchor="end">0</text>
<text x="131.36" y="444.1" font-size="3.9" fill="#444" stroke="#444" stroke-width="0.1" text-anchor="end" transform="rotate(-45 131.36 444.1)">0</text>
<text x="141.64" y="444.1" font-size="3.9" fill="#444" stroke="#444" stroke-width="0.1" text-anchor="end" transform="rotate(-45 141.64 444.1)">10<tspan dy="-1.1" font-size="2.54">3</tspan></text>
<text x="151.06" y="444.1" font-size="3.9" fill="#444" stroke="#444" stroke-width="0.1" text-anchor="end" transform="rotate(-45 151.06 444.1)">10<tspan dy="-1.1" font-size="2.54">4</tspan></text>
<text x="160.1" y="444.1" font-size="3.9" fill="#444" stroke="#444" stroke-width="0.1" text-anchor="end" transform="rotate(-45 160.1 444.1)">10<tspan dy="-1.1" font-size="2.54">5</tspan></text>
<clipPath id="c15"><rect x="196.6" y="401.9" width="37.2" height="37.2"/></clipPath>
<g clip-path="url(#c15)">
<ellipse cx="204.2" cy="432.6" rx="3.35" ry="2.15" fill="#111" opacity="0.85" filter="url(#bl)" transform="rotate(-15 204.2 432.6)"/>
<ellipse cx="204.2" cy="432.6" rx="6.09" ry="3.92" fill="#000" fill-opacity="0.85" filter="url(#g1)" transform="rotate(-15 204.2 432.6)"/>
<ellipse cx="204.2" cy="415.3" rx="4.5" ry="5" fill="#000" fill-opacity="0.3" filter="url(#g3)"/>
<ellipse cx="226" cy="410.5" rx="4" ry="1.8" fill="#000" fill-opacity="0.45" filter="url(#g2)" transform="rotate(-30 226 410.5)"/>
<ellipse cx="219" cy="429" rx="6" ry="5" fill="#000" fill-opacity="0.3" filter="url(#g3)"/>
<path transform="scale(.1)" d="M1989 4320h0m43 29h0m-4 10h0m93-72h0m-59-5h0m56 41h0m-10-25h0m-121 28h0m23-197h0m49 16h0m34-23h0m171 1h0m-25 185h0m2-36h0m-5-7h0m-167-55h0m146-48h0m-99 3h0m119 73h0m-24-47h0m-16 52h0" stroke="#111" stroke-width="7" stroke-linecap="square" stroke-opacity="0.45"/>
<path transform="scale(.1)" d="M2025 4300h0m68 6h0m-95 40h0m123-75h0m-33 18h0m-73 13h0m11 69h0m9-32h0m-2-233h0m-25 49h0m305-79h0m-79 28h0m35 139h0m-112 80h0m-1-2h0m43-111h0m-129-21h0m-27-51h0m107-59h0m-30 95h0m-37 166h0" stroke="#111" stroke-width="7" stroke-linecap="square" stroke-opacity="0.45"/>
<path transform="scale(.1)" d="M2062 4322h0m-68 29h0m20-43h0m46-23h0m-9 50h0m12-25h0m0 12h0m5 4h0m-63-177h0m101-21h0m146-22h0m-26 210h0m-26-36h0m34 47h0m26-80h0m-166-16h0m-76-62h0m127 36h0m-98 67h0m181-28h0m-57-23h0" stroke="#111" stroke-width="7" stroke-linecap="square" stroke-opacity="0.45"/>
<path transform="scale(.1)" d="M2095 4343h0m-19-24h0m-21-27h0m-71 54h0m71-78h0m-67 56h0m15-35h0m41 6h0m2-167h0m35 77h0m195-108h0m-37 153h0m-121 13h0m36 25h0m-81-52h0m0-19h0m18 65h0m150-106h0m21 58h0m-131-37h0m137 95h0" stroke="#111" stroke-width="7" stroke-linecap="square" stroke-opacity="0.45"/>
</g>
<line x1="212.5" y1="401.9" x2="212.5" y2="439.1" stroke="#333" stroke-width="0.7"/>
<line x1="196.6" y1="423.5" x2="233.8" y2="423.5" stroke="#333" stroke-width="0.7"/>
<rect x="196.6" y="401.9" width="37.2" height="37.2" fill="none" stroke="#444" stroke-width="0.8"/>
<text x="193" y="406.61" font-size="3.9" fill="#444" stroke="#444" stroke-width="0.1" text-anchor="end">10<tspan dy="-1.1" font-size="2.54">5</tspan></text>
<text x="193" y="415.28" font-size="3.9" fill="#444" stroke="#444" stroke-width="0.1" text-anchor="end">10<tspan dy="-1.1" font-size="2.54">4</tspan></text>
<text x="193" y="424.69" font-size="3.9" fill="#444" stroke="#444" stroke-width="0.1" text-anchor="end">10<tspan dy="-1.1" font-size="2.54">3</tspan></text>
<text x="193" y="433.13" font-size="3.9" fill="#444" stroke="#444" stroke-width="0.1" text-anchor="end">0</text>
<text x="207.46" y="444.1" font-size="3.9" fill="#444" stroke="#444" stroke-width="0.1" text-anchor="end" transform="rotate(-45 207.46 444.1)">0</text>
<text x="217.74" y="444.1" font-size="3.9" fill="#444" stroke="#444" stroke-width="0.1" text-anchor="end" transform="rotate(-45 217.74 444.1)">10<tspan dy="-1.1" font-size="2.54">3</tspan></text>
<text x="227.16" y="444.1" font-size="3.9" fill="#444" stroke="#444" stroke-width="0.1" text-anchor="end" transform="rotate(-45 227.16 444.1)">10<tspan dy="-1.1" font-size="2.54">4</tspan></text>
<text x="236.2" y="444.1" font-size="3.9" fill="#444" stroke="#444" stroke-width="0.1" text-anchor="end" transform="rotate(-45 236.2 444.1)">10<tspan dy="-1.1" font-size="2.54">5</tspan></text>
<clipPath id="c16"><rect x="270.3" y="401.9" width="37.2" height="37.2"/></clipPath>
<g clip-path="url(#c16)">
<ellipse cx="275.7" cy="415.7" rx="1.91" ry="2.78" fill="#111" opacity="0.85" filter="url(#bl)"/>
<ellipse cx="275.7" cy="415.7" rx="3.48" ry="5.05" fill="#000" fill-opacity="0.85" filter="url(#g1)"/>
<ellipse cx="275.7" cy="431.3" rx="1.91" ry="2.39" fill="#111" opacity="0.81" filter="url(#bl)"/>
<ellipse cx="275.7" cy="431.3" rx="3.48" ry="4.35" fill="#000" fill-opacity="0.85" filter="url(#g1)"/>
<ellipse cx="295.5" cy="432.2" rx="5" ry="3" fill="#000" fill-opacity="0.4" filter="url(#g2)"/>
<ellipse cx="280" cy="423" rx="6" ry="10" fill="#000" fill-opacity="0.3" filter="url(#g3)"/>
<ellipse cx="292" cy="418" rx="8" ry="6" fill="#000" fill-opacity="0.1" filter="url(#g3)"/>
<path transform="scale(.1)" d="M2755 4177h0m-3-10h0m9-28h0m16-46h0m17 123h0m-44-21h0m-33 116h0m66 1h0m29 43h0m-77-64h0m10-42h0m12 9h0m218 77h0m-1 9h0m-158-141h0m-3 72h0m-35 106h0m67-210h0m-3 65h0m-46-43h0m234-66h0m-107 23h0m-154 147h0m114 65h0m40-137h0m65 52h0m-129-27h0m35 105h0" stroke="#111" stroke-width="7" stroke-linecap="square" stroke-opacity="0.45"/>
<path transform="scale(.1)" d="M2729 4133h0m44 91h0m-19-69h0m-13 61h0m40-67h0m-53-6h0m9 149h0m42 3h0m-15 11h0m29 17h0m-13-49h0m172 15h0m8 29h0m12-24h0m-255-236h0m46 80h0m-10-35h0m-4 81h0m91-59h0m-60 209h0m145-162h0m-45 2h0m-60 82h0m95-110h0m3 118h0m-118-88h0m160 45h0" stroke="#111" stroke-width="7" stroke-linecap="square" stroke-opacity="0.45"/>
<path transform="scale(.1)" d="M2707 4183h0m59 7h0m-4-18h0m13-77h0m-9 28h0m-5-17h0m-2 184h0m-15-15h0m23 37h0m-16 40h0m-9-63h0m225 41h0m24 17h0m-244 20h0m-19-117h0m47-29h0m37 54h0m-17 9h0m-66 4h0m174-56h0m51-45h0m-43-60h0m-32 111h0m-109 133h0m204-120h0m-68-75h0m140 39h0" stroke="#111" stroke-width="7" stroke-linecap="square" stroke-opacity="0.45"/>
<path transform="scale(.1)" d="M2735 4120h0m6 64h0m3-55h0m81-70h0m-47 56h0m9 55h0m-5 120h0m-10 54h0m23 0h0m-48-40h0m29 7h0m178 57h0m-48-22h0m-95-222h0m-13 87h0m-10-90h0m33 25h0m7 82h0m-91-21h0m62 77h0m161-123h0m46 50h0m-112-31h0m-44 186h0m42-134h0m-42-79h0m70 32h0" stroke="#111" stroke-width="7" stroke-linecap="square" stroke-opacity="0.45"/>
</g>
<line x1="286.7" y1="401.9" x2="286.7" y2="439.1" stroke="#333" stroke-width="0.7"/>
<line x1="270.3" y1="423.5" x2="307.5" y2="423.5" stroke="#333" stroke-width="0.7"/>
<rect x="270.3" y="401.9" width="37.2" height="37.2" fill="none" stroke="#444" stroke-width="0.8"/>
<text x="266.7" y="406.61" font-size="3.9" fill="#444" stroke="#444" stroke-width="0.1" text-anchor="end">10<tspan dy="-1.1" font-size="2.54">5</tspan></text>
<text x="266.7" y="415.28" font-size="3.9" fill="#444" stroke="#444" stroke-width="0.1" text-anchor="end">10<tspan dy="-1.1" font-size="2.54">4</tspan></text>
<text x="266.7" y="424.69" font-size="3.9" fill="#444" stroke="#444" stroke-width="0.1" text-anchor="end">10<tspan dy="-1.1" font-size="2.54">3</tspan></text>
<text x="266.7" y="433.13" font-size="3.9" fill="#444" stroke="#444" stroke-width="0.1" text-anchor="end">0</text>
<text x="281.16" y="444.1" font-size="3.9" fill="#444" stroke="#444" stroke-width="0.1" text-anchor="end" transform="rotate(-45 281.16 444.1)">0</text>
<text x="291.44" y="444.1" font-size="3.9" fill="#444" stroke="#444" stroke-width="0.1" text-anchor="end" transform="rotate(-45 291.44 444.1)">10<tspan dy="-1.1" font-size="2.54">3</tspan></text>
<text x="300.86" y="444.1" font-size="3.9" fill="#444" stroke="#444" stroke-width="0.1" text-anchor="end" transform="rotate(-45 300.86 444.1)">10<tspan dy="-1.1" font-size="2.54">4</tspan></text>
<text x="309.9" y="444.1" font-size="3.9" fill="#444" stroke="#444" stroke-width="0.1" text-anchor="end" transform="rotate(-45 309.9 444.1)">10<tspan dy="-1.1" font-size="2.54">5</tspan></text>
<text x="60.4" y="456" font-size="5" fill="#333" stroke="#333" stroke-width="0.12" text-anchor="middle" textLength="30.8" lengthAdjust="spacingAndGlyphs">Comp-APC-A</text>
<text x="139.6" y="456" font-size="5" fill="#333" stroke="#333" stroke-width="0.12" text-anchor="middle" textLength="30.8" lengthAdjust="spacingAndGlyphs">Comp-APC-A</text>
<text x="215.6" y="456" font-size="5" fill="#333" stroke="#333" stroke-width="0.12" text-anchor="middle" textLength="30.8" lengthAdjust="spacingAndGlyphs">Comp-APC-A</text>
<clipPath id="c17"><rect x="41.5" y="465.3" width="37.3" height="37.2"/></clipPath>
<g clip-path="url(#c17)">
<ellipse cx="68.8" cy="478.2" rx="9" ry="6.5" fill="#000" fill-opacity="0.85" filter="url(#g2)" transform="rotate(-35 68.8 478.2)"/>
<ellipse cx="61.5" cy="484.8" rx="4.5" ry="3" fill="#000" fill-opacity="0.45" filter="url(#g2)" transform="rotate(-35 61.5 484.8)"/>
<ellipse cx="50" cy="493.5" rx="1.91" ry="1.67" fill="#111" opacity="0.9" filter="url(#bl)"/>
<ellipse cx="50" cy="493.5" rx="3.48" ry="3.04" fill="#000" fill-opacity="0.85" filter="url(#g1)"/>
<ellipse cx="57" cy="490" rx="5" ry="3" fill="#000" fill-opacity="0.25" filter="url(#g3)" transform="rotate(-20 57 490)"/>
<ellipse cx="65" cy="491.5" rx="8" ry="4.5" fill="#000" fill-opacity="0.35" filter="url(#g3)"/>
<path transform="scale(.1)" d="M665 4912h0m-4-179h0m-87 46h0m76-12h0m32 1h0m48-30h0m22 18h0m-121-18h0m18 60h0m17-13h0m-59 48h0m100-52h0m-66 105h0m73-123h0m0-4h0m-7 48h0m8 15h0m-122 33h0m188-77h0m-154 40h0m22-6h0m-133 123h0m11-15h0m-20-9h0m-59 6h0m81-24h0m120 23h0m1 3h0m-50-39h0m151 36h0m-107 28h0m29-78h0m-20 16h0m90 129h0m-141-142h0m17 63h0m-161-49h0m59-15h0m74-8h0m-31 102h0" stroke="#111" stroke-width="7" stroke-linecap="square" stroke-opacity="0.45"/>
<path transform="scale(.1)" d="M694 4821h0m66-48h0m22-15h0m-164-5h0m45 124h0m-78-79h0m97-27h0m-28 80h0m14-113h0m-13 25h0m13 90h0m82-59h0m-50-2h0m42 26h0m-111-17h0m40-64h0m88 8h0m-39 6h0m-102 128h0m-48-40h0m41 46h0m-70 19h0m-78 6h0m34 9h0m-26 24h0m86-55h0m88 21h0m-5 40h0m22-58h0m-18 60h0m-58-39h0m-62-23h0m8-38h0m57 37h0m-49 19h0m6-4h0m-46 41h0m77-210h0m12 150h0m-58-88h0" stroke="#111" stroke-width="7" stroke-linecap="square" stroke-opacity="0.45"/>
<path transform="scale(.1)" d="M551 4886h0m198-87h0m-68-38h0m-13 78h0m110 27h0m-75-74h0m41 5h0m13 31h0m-14-23h0m-31-38h0m21 83h0m-71-21h0m6 30h0m83-93h0m-118 61h0m106-122h0m-135 97h0m83-75h0m-61 155h0m-5-40h0m-84 101h0m-19-22h0m-34-9h0m54 30h0m29-60h0m-8 35h0m71 32h0m19-28h0m-63 2h0m68-28h0m19 101h0m-44-105h0m9-59h0m-37 116h0m-38-51h0m39-23h0m-140-84h0m131 116h0m179-21h0m-160-55h0" stroke="#111" stroke-width="7" stroke-linecap="square" stroke-opacity="0.45"/>
<path transform="scale(.1)" d="M688 4823h0m60-84h0m-58 43h0m34-38h0m-82 62h0m69 20h0m-7-28h0m11 16h0m2 65h0m-5-127h0m40 35h0m-97-23h0m79 10h0m21 65h0m-110-149h0m-55 96h0m44 24h0m-44 3h0m33 17h0m-15 12h0m-153 79h0m80 12h0m-4 33h0m-18-40h0m55 12h0m49-98h0m5 71h0m25-30h0m35-25h0m100 23h0m-186 34h0m115 18h0m-83-129h0m27 63h0m-25 72h0m-4-11h0m-140 49h0m119-49h0m31-109h0" stroke="#111" stroke-width="7" stroke-linecap="square" stroke-opacity="0.45"/>
</g>
<line x1="57.5" y1="465.3" x2="57.5" y2="502.5" stroke="#333" stroke-width="0.7"/>
<line x1="41.5" y1="486.4" x2="78.8" y2="486.4" stroke="#333" stroke-width="0.7"/>
<rect x="41.5" y="465.3" width="37.3" height="37.2" fill="none" stroke="#444" stroke-width="0.8"/>
<text x="37.9" y="470.01" font-size="3.9" fill="#444" stroke="#444" stroke-width="0.1" text-anchor="end">10<tspan dy="-1.1" font-size="2.54">5</tspan></text>
<text x="37.9" y="478.68" font-size="3.9" fill="#444" stroke="#444" stroke-width="0.1" text-anchor="end">10<tspan dy="-1.1" font-size="2.54">4</tspan></text>
<text x="37.9" y="488.09" font-size="3.9" fill="#444" stroke="#444" stroke-width="0.1" text-anchor="end">10<tspan dy="-1.1" font-size="2.54">3</tspan></text>
<text x="37.9" y="496.53" font-size="3.9" fill="#444" stroke="#444" stroke-width="0.1" text-anchor="end">0</text>
<text x="52.38" y="507.5" font-size="3.9" fill="#444" stroke="#444" stroke-width="0.1" text-anchor="end" transform="rotate(-45 52.38 507.5)">0</text>
<text x="62.69" y="507.5" font-size="3.9" fill="#444" stroke="#444" stroke-width="0.1" text-anchor="end" transform="rotate(-45 62.69 507.5)">10<tspan dy="-1.1" font-size="2.54">3</tspan></text>
<text x="72.13" y="507.5" font-size="3.9" fill="#444" stroke="#444" stroke-width="0.1" text-anchor="end" transform="rotate(-45 72.13 507.5)">10<tspan dy="-1.1" font-size="2.54">4</tspan></text>
<text x="81.19" y="507.5" font-size="3.9" fill="#444" stroke="#444" stroke-width="0.1" text-anchor="end" transform="rotate(-45 81.19 507.5)">10<tspan dy="-1.1" font-size="2.54">5</tspan></text>
<clipPath id="c18"><rect x="120.5" y="465.3" width="37.2" height="37.2"/></clipPath>
<g clip-path="url(#c18)">
<ellipse cx="146.6" cy="488.5" rx="10" ry="8.5" fill="#000" fill-opacity="0.8" filter="url(#g2)"/>
<ellipse cx="127.6" cy="493" rx="1.53" ry="1.44" fill="#111" opacity="0.85" filter="url(#bl)" transform="rotate(-20 127.6 493)"/>
<ellipse cx="127.6" cy="493" rx="2.78" ry="2.61" fill="#000" fill-opacity="0.85" filter="url(#g1)" transform="rotate(-20 127.6 493)"/>
<ellipse cx="134" cy="491" rx="5" ry="3" fill="#000" fill-opacity="0.4" filter="url(#g2)" transform="rotate(-15 134 491)"/>
<path transform="scale(.1)" d="M1493 4930h0m46 52h0m-233-157h0m126 81h0m74 5h0m-47-120h0m-33 119h0m73-21h0m-9-67h0m-34 35h0m67-69h0m-59 123h0m-119 42h0m57-59h0m44-36h0m32-37h0m-55 155h0m93-62h0m-208-43h0m163-20h0m35 14h0m-36 28h0m-129-36h0m42 97h0m119-112h0m-232 34h0m28 75h0m-33 3h0m21-18h0m38-41h0m-22-61h0m138 59h0m52-79h0m-165 14h0m153 43h0m8-63h0m-126-77h0m39 98h0" stroke="#111" stroke-width="7" stroke-linecap="square" stroke-opacity="0.45"/>
<path transform="scale(.1)" d="M1382 4844h0m59-100h0m-77 141h0m41-18h0m143 50h0m-219-10h0m168-73h0m38 74h0m-69-19h0m-162 14h0m139 106h0m-54-102h0m123 23h0m2-30h0m-100 31h0m-42-67h0m119 68h0m12-37h0m-122-11h0m48 25h0m16-119h0m-63 55h0m148 0h0m-79 24h0m53-29h0m-213 79h0m-33-1h0m135-56h0m-7 85h0m-71-90h0m-64 99h0m80-124h0m155 53h0m-34 77h0m-57-155h0m72-32h0m-42 121h0m34 33h0" stroke="#111" stroke-width="7" stroke-linecap="square" stroke-opacity="0.45"/>
<path transform="scale(.1)" d="M1498 4989h0m52-107h0m-92-3h0m-3 89h0m8-109h0m61 77h0m-102-183h0m-4 154h0m25 35h0m67-104h0m-40 77h0m89 38h0m-159-142h0m-12-61h0m74 143h0m94 4h0m-37-13h0m-111-16h0m155 7h0m-66 59h0m-74-95h0m-21 104h0m74-112h0m15-26h0m-189 139h0m-26-20h0m23-21h0m96-14h0m11 19h0m8-40h0m33-69h0m-39 126h0m62 50h0m41 34h0m-32-203h0m-114 135h0m-54-37h0m-69-138h0" stroke="#111" stroke-width="7" stroke-linecap="square" stroke-opacity="0.45"/>
<path transform="scale(.1)" d="M1397 4784h0m41 72h0m-8 9h0m64 13h0m38 40h0m-163 33h0m28-181h0m40 154h0m3-182h0m-2 81h0m17-13h0m-108 13h0m125 68h0m-25 4h0m-54-50h0m50-49h0m8 97h0m-56 56h0m117-58h0m-35-97h0m-14-2h0m-187 71h0m275-63h0m-27 86h0m-227 47h0m-52-3h0m72-14h0m75-29h0m-64 14h0m34 3h0m33 23h0m-61-124h0m121 114h0m-30-35h0m16-97h0m-105 89h0m0-64h0" stroke="#111" stroke-width="7" stroke-linecap="square" stroke-opacity="0.45"/>
</g>
<line x1="136.5" y1="465.3" x2="136.5" y2="502.5" stroke="#333" stroke-width="0.7"/>
<line x1="120.5" y1="489.5" x2="157.7" y2="489.5" stroke="#333" stroke-width="0.7"/>
<rect x="120.5" y="465.3" width="37.2" height="37.2" fill="none" stroke="#444" stroke-width="0.8"/>
<text x="116.9" y="470.01" font-size="3.9" fill="#444" stroke="#444" stroke-width="0.1" text-anchor="end">10<tspan dy="-1.1" font-size="2.54">5</tspan></text>
<text x="116.9" y="478.68" font-size="3.9" fill="#444" stroke="#444" stroke-width="0.1" text-anchor="end">10<tspan dy="-1.1" font-size="2.54">4</tspan></text>
<text x="116.9" y="488.09" font-size="3.9" fill="#444" stroke="#444" stroke-width="0.1" text-anchor="end">10<tspan dy="-1.1" font-size="2.54">3</tspan></text>
<text x="116.9" y="496.53" font-size="3.9" fill="#444" stroke="#444" stroke-width="0.1" text-anchor="end">0</text>
<text x="131.36" y="507.5" font-size="3.9" fill="#444" stroke="#444" stroke-width="0.1" text-anchor="end" transform="rotate(-45 131.36 507.5)">0</text>
<text x="141.64" y="507.5" font-size="3.9" fill="#444" stroke="#444" stroke-width="0.1" text-anchor="end" transform="rotate(-45 141.64 507.5)">10<tspan dy="-1.1" font-size="2.54">3</tspan></text>
<text x="151.06" y="507.5" font-size="3.9" fill="#444" stroke="#444" stroke-width="0.1" text-anchor="end" transform="rotate(-45 151.06 507.5)">10<tspan dy="-1.1" font-size="2.54">4</tspan></text>
<text x="160.1" y="507.5" font-size="3.9" fill="#444" stroke="#444" stroke-width="0.1" text-anchor="end" transform="rotate(-45 160.1 507.5)">10<tspan dy="-1.1" font-size="2.54">5</tspan></text>
<clipPath id="c19"><rect x="196.6" y="465.3" width="37.2" height="37.2"/></clipPath>
<g clip-path="url(#c19)">
<ellipse cx="222.5" cy="485" rx="8.5" ry="13" fill="#000" fill-opacity="0.65" filter="url(#g3)"/>
<ellipse cx="222.5" cy="485" rx="6" ry="10" fill="#000" fill-opacity="0.4" filter="url(#g2)"/>
<ellipse cx="203.8" cy="496.6" rx="1.58" ry="1.44" fill="#111" opacity="0.85" filter="url(#bl)" transform="rotate(-20 203.8 496.6)"/>
<ellipse cx="203.8" cy="496.6" rx="2.87" ry="2.61" fill="#000" fill-opacity="0.85" filter="url(#g1)" transform="rotate(-20 203.8 496.6)"/>
<ellipse cx="208" cy="488" rx="5" ry="7" fill="#000" fill-opacity="0.15" filter="url(#g3)"/>
<path transform="scale(.1)" d="M2261 4803h0m-95 78h0m33-141h0m-149 48h0m146 3h0m52 95h0m5 100h0m-129-30h0m96-227h0m20 175h0m-17 62h0m61-212h0m-45 209h0m-105-190h0m140 201h0m-62-218h0m117-4h0m-118 116h0m-30-67h0m102-31h0m-111 100h0m69-86h0m-4 102h0m-168 34h0m127-49h0m23-157h0m35 173h0m-36-98h0m-39 74h0m25-90h0m7 77h0m-60-117h0m73 40h0m29 93h0m-38-47h0m91 101h0m-260 62h0m-20-29h0m-22-58h0m115 91h0m112-102h0m-73 105h0m46-83h0m17-125h0m-53 179h0m73-129h0m-111 112h0m53-207h0m-100 75h0m10 208h0" stroke="#111" stroke-width="7" stroke-linecap="square" stroke-opacity="0.45"/>
<path transform="scale(.1)" d="M2249 4961h0m-9-246h0m13 157h0m-32 72h0m-43-40h0m124 48h0m21-93h0m-132-55h0m-16-76h0m17 108h0m77 19h0m-157-104h0m193 50h0m-87 108h0m-19-89h0m31 150h0m-20-39h0m-58-128h0m155-48h0m-26 29h0m17-75h0m-97 143h0m2 29h0m70-120h0m30 87h0m-128 58h0m12-80h0m-22 64h0m30-27h0m22-123h0m-57 113h0m51 33h0m-29-71h0m56 58h0m90-80h0m-273 179h0m-6 4h0m-12-30h0m17-140h0m48 103h0m187-167h0m-3 170h0m-91 64h0m50-95h0m-35 23h0m-39-53h0m-21 36h0m51 32h0m-20-75h0m-166-8h0" stroke="#111" stroke-width="7" stroke-linecap="square" stroke-opacity="0.45"/>
<path transform="scale(.1)" d="M2201 4746h0m78-11h0m-31 66h0m-42 25h0m-15-139h0m-3 147h0m45 21h0m-30-186h0m36 261h0m42-122h0m-94 26h0m-68-118h0m191 171h0m-109-49h0m44-17h0m-48-19h0m68 75h0m-122 69h0m-33-56h0m210 89h0m-37-258h0m-15 50h0m-39 221h0m-131-253h0m121 57h0m-40 141h0m151-178h0m-59 196h0m-12-25h0m-34-58h0m-38-56h0m54 101h0m-4-50h0m-37-94h0m15 97h0m-168 113h0m-42 20h0m44-52h0m8-82h0m22-51h0m21 2h0m53 79h0m112-115h0m-17 54h0m60 39h0m-104 106h0m-52-80h0m-11 37h0m34-32h0m107-19h0" stroke="#111" stroke-width="7" stroke-linecap="square" stroke-opacity="0.45"/>
<path transform="scale(.1)" d="M2051 4870h0m148-73h0m108 71h0m-124 47h0m82-133h0m-122 232h0m123-112h0m-31 1h0m55-124h0m-62-96h0m36 90h0m33 57h0m-72 63h0m62 95h0m-94 23h0m-12-175h0m-61 49h0m88 20h0m-56-98h0m43 22h0m-25-153h0m56 268h0m45-118h0m13-80h0m45 208h0m-88-82h0m-37 58h0m23-2h0m-47 17h0m36-55h0m5-26h0m63 23h0m-59-48h0m22 42h0m-74-22h0m-141 100h0m62 14h0m-27 11h0m52-184h0m-19 100h0m34 6h0m103-141h0m-48 18h0m-111 208h0m200-260h0m-228 123h0m201-36h0m-216-116h0m112 47h0" stroke="#111" stroke-width="7" stroke-linecap="square" stroke-opacity="0.45"/>
</g>
<line x1="212" y1="465.3" x2="212" y2="502.5" stroke="#333" stroke-width="0.7"/>
<line x1="196.6" y1="485.8" x2="233.8" y2="485.8" stroke="#333" stroke-width="0.7"/>
<rect x="196.6" y="465.3" width="37.2" height="37.2" fill="none" stroke="#444" stroke-width="0.8"/>
<text x="193" y="470.01" font-size="3.9" fill="#444" stroke="#444" stroke-width="0.1" text-anchor="end">10<tspan dy="-1.1" font-size="2.54">5</tspan></text>
<text x="193" y="478.68" font-size="3.9" fill="#444" stroke="#444" stroke-width="0.1" text-anchor="end">10<tspan dy="-1.1" font-size="2.54">4</tspan></text>
<text x="193" y="488.09" font-size="3.9" fill="#444" stroke="#444" stroke-width="0.1" text-anchor="end">10<tspan dy="-1.1" font-size="2.54">3</tspan></text>
<text x="193" y="496.53" font-size="3.9" fill="#444" stroke="#444" stroke-width="0.1" text-anchor="end">0</text>
<text x="207.46" y="507.5" font-size="3.9" fill="#444" stroke="#444" stroke-width="0.1" text-anchor="end" transform="rotate(-45 207.46 507.5)">0</text>
<text x="217.74" y="507.5" font-size="3.9" fill="#444" stroke="#444" stroke-width="0.1" text-anchor="end" transform="rotate(-45 217.74 507.5)">10<tspan dy="-1.1" font-size="2.54">3</tspan></text>
<text x="227.16" y="507.5" font-size="3.9" fill="#444" stroke="#444" stroke-width="0.1" text-anchor="end" transform="rotate(-45 227.16 507.5)">10<tspan dy="-1.1" font-size="2.54">4</tspan></text>
<text x="236.2" y="507.5" font-size="3.9" fill="#444" stroke="#444" stroke-width="0.1" text-anchor="end" transform="rotate(-45 236.2 507.5)">10<tspan dy="-1.1" font-size="2.54">5</tspan></text>
<clipPath id="c20"><rect x="270.3" y="465.3" width="37.2" height="37.2"/></clipPath>
<g clip-path="url(#c20)">
<ellipse cx="295" cy="493.8" rx="10" ry="6.5" fill="#000" fill-opacity="0.8" filter="url(#g2)"/>
<ellipse cx="275.5" cy="489" rx="3" ry="9" fill="#000" fill-opacity="0.45" filter="url(#g2)"/>
<ellipse cx="275.5" cy="494" rx="2.5" ry="3.5" fill="#000" fill-opacity="0.5" filter="url(#g1)"/>
<ellipse cx="292" cy="482" rx="8" ry="5" fill="#000" fill-opacity="0.3" filter="url(#g3)"/>
<path transform="scale(.1)" d="M2888 4938h0m166-17h0m-97 91h0m-87-92h0m154 26h0m-32-10h0m-71 68h0m-48-218h0m141 174h0m2-87h0m-163 40h0m33-29h0m-43 53h0m103-29h0m-33 50h0m48-30h0m10-12h0m-34 74h0m121-24h0m-112-39h0m-210-3h0m-1 58h0m18-51h0m9-120h0m-26-27h0m29 142h0m3 36h0m180-174h0m-51 49h0m44 7h0m-122-58h0m115 97h0m126-66h0m-139 175h0m-91-170h0m36-35h0m91 53h0m-156-5h0m163-108h0m19-34h0" stroke="#111" stroke-width="7" stroke-linecap="square" stroke-opacity="0.45"/>
<path transform="scale(.1)" d="M3015 4997h0m-174-40h0m39-45h0m148 18h0m-4-90h0m-64 135h0m-40-44h0m-13-89h0m-16 132h0m-27-82h0m89 0h0m26 70h0m-23 10h0m27-85h0m-120 54h0m147 4h0m-34 45h0m-58-64h0m49-37h0m3 116h0m-207-159h0m-39 124h0m30-16h0m9-54h0m-31-22h0m43 48h0m60-112h0m81-41h0m19 88h0m-53-36h0m36 51h0m11-36h0m62 150h0m-48-135h0m-44-73h0m-90 85h0m89-17h0m-59 24h0m86-83h0m-36 202h0" stroke="#111" stroke-width="7" stroke-linecap="square" stroke-opacity="0.45"/>
<path transform="scale(.1)" d="M2883 4975h0m-11 7h0m-41-20h0m166 2h0m-171-130h0m101 123h0m-23-43h0m-91 63h0m15-98h0m137 42h0m-59 19h0m32-1h0m-6-34h0m-17-16h0m-94 24h0m166 60h0m24-56h0m-9-4h0m-14 26h0m-14-84h0m-214-19h0m24 38h0m-3 36h0m-49-82h0m28 140h0m-18 11h0m104-156h0m73 15h0m-79 0h0m7-73h0m132 83h0m57 111h0m-216-83h0m165-39h0m-258 93h0m228-179h0m-106-2h0m127 124h0m-179-17h0" stroke="#111" stroke-width="7" stroke-linecap="square" stroke-opacity="0.45"/>
<path transform="scale(.1)" d="M2969 4992h0m-62-52h0m9 19h0m8-97h0m-40 127h0m76-158h0m74 94h0m-31-80h0m-161 39h0m173 19h0m36 3h0m-7 73h0m-130-129h0m-46 121h0m41-6h0m33-43h0m-92 11h0m85 86h0m28-109h0m-89-51h0m-152-67h0m31 53h0m8 37h0m-1-126h0m9 214h0m0-26h0m107-75h0m56-123h0m-54 79h0m72-9h0m-141-2h0m79-27h0m-20 105h0m-2 121h0m-33-195h0m60-45h0m49-14h0m-31 99h0m-47 39h0" stroke="#111" stroke-width="7" stroke-linecap="square" stroke-opacity="0.45"/>
</g>
<line x1="286.9" y1="465.3" x2="286.9" y2="502.5" stroke="#333" stroke-width="0.7"/>
<line x1="270.3" y1="486.4" x2="307.5" y2="486.4" stroke="#333" stroke-width="0.7"/>
<rect x="270.3" y="465.3" width="37.2" height="37.2" fill="none" stroke="#444" stroke-width="0.8"/>
<text x="266.7" y="470.01" font-size="3.9" fill="#444" stroke="#444" stroke-width="0.1" text-anchor="end">10<tspan dy="-1.1" font-size="2.54">5</tspan></text>
<text x="266.7" y="478.68" font-size="3.9" fill="#444" stroke="#444" stroke-width="0.1" text-anchor="end">10<tspan dy="-1.1" font-size="2.54">4</tspan></text>
<text x="266.7" y="488.09" font-size="3.9" fill="#444" stroke="#444" stroke-width="0.1" text-anchor="end">10<tspan dy="-1.1" font-size="2.54">3</tspan></text>
<text x="266.7" y="496.53" font-size="3.9" fill="#444" stroke="#444" stroke-width="0.1" text-anchor="end">0</text>
<text x="281.16" y="507.5" font-size="3.9" fill="#444" stroke="#444" stroke-width="0.1" text-anchor="end" transform="rotate(-45 281.16 507.5)">0</text>
<text x="291.44" y="507.5" font-size="3.9" fill="#444" stroke="#444" stroke-width="0.1" text-anchor="end" transform="rotate(-45 291.44 507.5)">10<tspan dy="-1.1" font-size="2.54">3</tspan></text>
<text x="300.86" y="507.5" font-size="3.9" fill="#444" stroke="#444" stroke-width="0.1" text-anchor="end" transform="rotate(-45 300.86 507.5)">10<tspan dy="-1.1" font-size="2.54">4</tspan></text>
<text x="309.9" y="507.5" font-size="3.9" fill="#444" stroke="#444" stroke-width="0.1" text-anchor="end" transform="rotate(-45 309.9 507.5)">10<tspan dy="-1.1" font-size="2.54">5</tspan></text>
<text x="60.4" y="518.1" font-size="5" fill="#333" stroke="#333" stroke-width="0.12" text-anchor="middle" textLength="30.8" lengthAdjust="spacingAndGlyphs">Comp-APC-A</text>
<text x="139.5" y="518.1" font-size="5" fill="#333" stroke="#333" stroke-width="0.12" text-anchor="middle" textLength="30.8" lengthAdjust="spacingAndGlyphs">Comp-APC-A</text>
<text x="215.8" y="518.3" font-size="5" fill="#333" stroke="#333" stroke-width="0.12" text-anchor="middle" textLength="30.8" lengthAdjust="spacingAndGlyphs">Comp-APC-A</text>
<clipPath id="c21"><rect x="41.5" y="527.8" width="37.3" height="37.2"/></clipPath>
<g clip-path="url(#c21)">
<ellipse cx="68.7" cy="538.7" rx="10" ry="8.5" fill="#000" fill-opacity="0.8" filter="url(#g2)" transform="rotate(-20 68.7 538.7)"/>
<ellipse cx="49.2" cy="555.6" rx="1.91" ry="2.15" fill="#111" opacity="0.77" filter="url(#bl)"/>
<ellipse cx="49.2" cy="555.6" rx="3.48" ry="3.92" fill="#000" fill-opacity="0.85" filter="url(#g1)"/>
<ellipse cx="64" cy="554.7" rx="7" ry="4" fill="#000" fill-opacity="0.35" filter="url(#g3)"/>
<ellipse cx="58" cy="545" rx="8" ry="6" fill="#000" fill-opacity="0.12" filter="url(#g3)"/>
<path transform="scale(.1)" d="M774 5449h0m-106-41h0m-123 92h0m108-115h0m99-18h0m-120 60h0m-75 45h0m74-180h0m36 216h0m36-1h0m-36-64h0m-43 24h0m141-125h0m-12 81h0m-58-123h0m-60 34h0m64 150h0m52-81h0m-117 72h0m-75-140h0m20 89h0m59 22h0m69-143h0m-82 139h0m-115 132h0m-38-60h0m33 6h0m-34 58h0m5-27h0m177-9h0m84 32h0m-195 3h0m16 8h0m23-174h0m-78 27h0m145 56h0m-223-40h0m250 4h0m-93 172h0m36-201h0m-53-7h0m151 223h0m-6-76h0" stroke="#111" stroke-width="7" stroke-linecap="square" stroke-opacity="0.45"/>
<path transform="scale(.1)" d="M657 5296h0m-106 113h0m155 126h0m-160-38h0m83-124h0m-96 47h0m156-24h0m45-17h0m-137 7h0m97 14h0m-205-21h0m169 30h0m28 24h0m38 65h0m-9-194h0m-29 78h0m43-57h0m-59 87h0m-122-32h0m180 32h0m-85-35h0m71 159h0m-45-237h0m65 52h0m-218 197h0m-56 32h0m26-89h0m-5 48h0m8-24h0m177 45h0m-77-24h0m72-11h0m-106-9h0m63-36h0m87 32h0m-157-70h0m92 63h0m-118 72h0m78-110h0m73-108h0m90 172h0m-162-34h0m-15 82h0" stroke="#111" stroke-width="7" stroke-linecap="square" stroke-opacity="0.45"/>
<path transform="scale(.1)" d="M618 5456h0m96 41h0m-5-109h0m29-65h0m-253 79h0m249 11h0m-99-30h0m-9-24h0m46-55h0m-94 6h0m5 203h0m-19-5h0m143-148h0m-138 51h0m16 0h0m140-72h0m-1-48h0m-118 117h0m76-104h0m31 88h0m-145 6h0m142-32h0m-109-39h0m20 136h0m-163 77h0m45-20h0m-45 47h0m46-7h0m82 15h0m115-41h0m-100 12h0m29-15h0m-28-27h0m102-146h0m-157 220h0m129-90h0m-53-68h0m30 33h0m-122-27h0m60 35h0m124 22h0m-208-2h0m253 31h0" stroke="#111" stroke-width="7" stroke-linecap="square" stroke-opacity="0.45"/>
<path transform="scale(.1)" d="M733 5317h0m-106 33h0m-40 171h0m110-115h0m62-31h0m-112 85h0m130 7h0m-89-60h0m48 2h0m-105-27h0m0-13h0m91 39h0m-47-54h0m-75 156h0m25-178h0m-65 8h0m186-4h0m-12 37h0m-104-6h0m21 54h0m75 32h0m-44 5h0m-108-80h0m-77-57h0m9 211h0m-43 6h0m51-17h0m6 57h0m34-2h0m72-38h0m23 77h0m-8-39h0m-29-79h0m-46-1h0m146 36h0m54-78h0m-29-23h0m-59 40h0m-8 47h0m-119-29h0m145 45h0m-26-95h0" stroke="#111" stroke-width="7" stroke-linecap="square" stroke-opacity="0.45"/>
</g>
<line x1="57.5" y1="527.8" x2="57.5" y2="565" stroke="#333" stroke-width="0.7"/>
<line x1="41.5" y1="549.5" x2="78.8" y2="549.5" stroke="#333" stroke-width="0.7"/>
<rect x="41.5" y="527.8" width="37.3" height="37.2" fill="none" stroke="#444" stroke-width="0.8"/>
<text x="37.9" y="532.51" font-size="3.9" fill="#444" stroke="#444" stroke-width="0.1" text-anchor="end">10<tspan dy="-1.1" font-size="2.54">5</tspan></text>
<text x="37.9" y="541.18" font-size="3.9" fill="#444" stroke="#444" stroke-width="0.1" text-anchor="end">10<tspan dy="-1.1" font-size="2.54">4</tspan></text>
<text x="37.9" y="550.59" font-size="3.9" fill="#444" stroke="#444" stroke-width="0.1" text-anchor="end">10<tspan dy="-1.1" font-size="2.54">3</tspan></text>
<text x="37.9" y="559.03" font-size="3.9" fill="#444" stroke="#444" stroke-width="0.1" text-anchor="end">0</text>
<text x="52.38" y="570" font-size="3.9" fill="#444" stroke="#444" stroke-width="0.1" text-anchor="end" transform="rotate(-45 52.38 570)">0</text>
<text x="62.69" y="570" font-size="3.9" fill="#444" stroke="#444" stroke-width="0.1" text-anchor="end" transform="rotate(-45 62.69 570)">10<tspan dy="-1.1" font-size="2.54">3</tspan></text>
<text x="72.13" y="570" font-size="3.9" fill="#444" stroke="#444" stroke-width="0.1" text-anchor="end" transform="rotate(-45 72.13 570)">10<tspan dy="-1.1" font-size="2.54">4</tspan></text>
<text x="81.19" y="570" font-size="3.9" fill="#444" stroke="#444" stroke-width="0.1" text-anchor="end" transform="rotate(-45 81.19 570)">10<tspan dy="-1.1" font-size="2.54">5</tspan></text>
<clipPath id="c22"><rect x="120.5" y="527.8" width="37.2" height="37"/></clipPath>
<g clip-path="url(#c22)">
<ellipse cx="147" cy="552.3" rx="10.5" ry="7" fill="#000" fill-opacity="0.72" filter="url(#g2)"/>
<ellipse cx="127.8" cy="556.9" rx="1.82" ry="1.53" fill="#111" opacity="0.85" filter="url(#bl)" transform="rotate(-10 127.8 556.9)"/>
<ellipse cx="127.8" cy="556.9" rx="3.31" ry="2.78" fill="#000" fill-opacity="0.85" filter="url(#g1)" transform="rotate(-10 127.8 556.9)"/>
<ellipse cx="134" cy="553" rx="6" ry="3.5" fill="#000" fill-opacity="0.35" filter="url(#g3)"/>
<ellipse cx="140" cy="546" rx="10" ry="6" fill="#000" fill-opacity="0.12" filter="url(#g3)"/>
<path transform="scale(.1)" d="M1392 5600h0m174-47h0m-37-31h0m7 41h0m-17-47h0m-80 1h0m55 19h0m-43-14h0m-36 55h0m-27-50h0m-80-129h0m146 2h0m16 84h0m44 25h0m-106-8h0m144 7h0m-76 43h0m-68-38h0m64-48h0m-77 148h0m-59-42h0m-26-33h0m-35 54h0m91-87h0m34 7h0m-71 21h0m38-134h0m128 23h0m-56 160h0m-32-59h0m103-89h0m-185 200h0m131-229h0m-47 129h0m60 8h0m-132-17h0m162-6h0" stroke="#111" stroke-width="7" stroke-linecap="square" stroke-opacity="0.45"/>
<path transform="scale(.1)" d="M1457 5503h0m-50 12h0m45 30h0m-225-69h0m245 139h0m81-67h0m-110-49h0m16 25h0m-140-57h0m-23 32h0m123-15h0m117 20h0m-26-13h0m30 20h0m-112 50h0m130-5h0m-54-48h0m-55 2h0m-9 18h0m-141 58h0m-26-12h0m-10-22h0m2 18h0m41-55h0m5 61h0m26-159h0m176-62h0m-96 56h0m35 18h0m-122 77h0m-103-62h0m218 174h0m-135-187h0m-14 36h0m88 153h0m21-162h0m76 119h0" stroke="#111" stroke-width="7" stroke-linecap="square" stroke-opacity="0.45"/>
<path transform="scale(.1)" d="M1479 5495h0m60 7h0m-3 61h0m-127-52h0m13 28h0m27 31h0m23-97h0m0 53h0m76-11h0m-129 36h0m-35 43h0m67 11h0m116-32h0m-48-100h0m-105 73h0m90-36h0m-28 34h0m-74 15h0m53-38h0m-195 69h0m45-1h0m-19 10h0m69-116h0m-3 49h0m-25 35h0m44-68h0m-19-13h0m88-21h0m-18 66h0m4-49h0m-91 52h0m-15 7h0m-39-84h0m121 30h0m138-10h0m-158-71h0" stroke="#111" stroke-width="7" stroke-linecap="square" stroke-opacity="0.45"/>
<path transform="scale(.1)" d="M1554 5564h0m-130 19h0m22-37h0m38 25h0m-175-28h0m195-14h0m-133 62h0m36-19h0m10-29h0m122-65h0m-76 139h0m-14-33h0m26-29h0m3-10h0m-135-15h0m87-20h0m-87-27h0m150-46h0m44 146h0m-250-27h0m10 36h0m-6-47h0m85-5h0m-29 38h0m66-62h0m-45-64h0m-71 36h0m121 34h0m-132 59h0m122-207h0m-80 144h0m-3 18h0m-1-122h0m21 135h0m46 23h0m-34-191h0" stroke="#111" stroke-width="7" stroke-linecap="square" stroke-opacity="0.45"/>
</g>
<line x1="136" y1="527.8" x2="136" y2="564.8" stroke="#333" stroke-width="0.7"/>
<line x1="120.5" y1="552.1" x2="157.7" y2="552.1" stroke="#333" stroke-width="0.7"/>
<rect x="120.5" y="527.8" width="37.2" height="37" fill="none" stroke="#444" stroke-width="0.8"/>
<text x="116.9" y="532.49" font-size="3.9" fill="#444" stroke="#444" stroke-width="0.1" text-anchor="end">10<tspan dy="-1.1" font-size="2.54">5</tspan></text>
<text x="116.9" y="541.11" font-size="3.9" fill="#444" stroke="#444" stroke-width="0.1" text-anchor="end">10<tspan dy="-1.1" font-size="2.54">4</tspan></text>
<text x="116.9" y="550.47" font-size="3.9" fill="#444" stroke="#444" stroke-width="0.1" text-anchor="end">10<tspan dy="-1.1" font-size="2.54">3</tspan></text>
<text x="116.9" y="558.87" font-size="3.9" fill="#444" stroke="#444" stroke-width="0.1" text-anchor="end">0</text>
<text x="131.36" y="569.8" font-size="3.9" fill="#444" stroke="#444" stroke-width="0.1" text-anchor="end" transform="rotate(-45 131.36 569.8)">0</text>
<text x="141.64" y="569.8" font-size="3.9" fill="#444" stroke="#444" stroke-width="0.1" text-anchor="end" transform="rotate(-45 141.64 569.8)">10<tspan dy="-1.1" font-size="2.54">3</tspan></text>
<text x="151.06" y="569.8" font-size="3.9" fill="#444" stroke="#444" stroke-width="0.1" text-anchor="end" transform="rotate(-45 151.06 569.8)">10<tspan dy="-1.1" font-size="2.54">4</tspan></text>
<text x="160.1" y="569.8" font-size="3.9" fill="#444" stroke="#444" stroke-width="0.1" text-anchor="end" transform="rotate(-45 160.1 569.8)">10<tspan dy="-1.1" font-size="2.54">5</tspan></text>
<clipPath id="c23"><rect x="198.4" y="527.6" width="37.3" height="37.1"/></clipPath>
<g clip-path="url(#c23)">
<ellipse cx="224.4" cy="541.7" rx="8.5" ry="8" fill="#000" fill-opacity="0.6" filter="url(#g3)"/>
<ellipse cx="227.4" cy="555.6" rx="7" ry="5.5" fill="#000" fill-opacity="0.75" filter="url(#g2)"/>
<ellipse cx="205.8" cy="558.6" rx="1.82" ry="1.44" fill="#111" opacity="0.85" filter="url(#bl)" transform="rotate(-10 205.8 558.6)"/>
<ellipse cx="205.8" cy="558.6" rx="3.31" ry="2.61" fill="#000" fill-opacity="0.85" filter="url(#g1)" transform="rotate(-10 205.8 558.6)"/>
<ellipse cx="209" cy="541" rx="5" ry="6" fill="#000" fill-opacity="0.22" filter="url(#g3)"/>
<ellipse cx="216" cy="552" rx="8" ry="6" fill="#000" fill-opacity="0.22" filter="url(#g3)"/>
<path transform="scale(.1)" d="M2309 5473h0m2-138h0m-45-42h0m-13 74h0m-56 39h0m44 17h0m-5-56h0m-191 69h0m211-24h0m-37-103h0m-6 26h0m45 204h0m-44-88h0m40 5h0m-36-40h0m123-42h0m-113 199h0m-16-63h0m14 111h0m24-42h0m50 6h0m-29-45h0m49-49h0m-84 18h0m78 133h0m22-85h0m-74-47h0m-185 75h0m-32 21h0m17-29h0m77-173h0m-107-78h0m41 49h0m17 128h0m-13 17h0m-55-46h0m112 54h0m112 30h0m77-241h0m-74 38h0m-86 27h0m-79 67h0m255 136h0m-118-127h0m-183-61h0" stroke="#111" stroke-width="7" stroke-linecap="square" stroke-opacity="0.45"/>
<path transform="scale(.1)" d="M2186 5443h0m34-54h0m33 98h0m-23-74h0m103 24h0m19-30h0m-125-44h0m-98 64h0m-6 29h0m62-61h0m7-1h0m13 51h0m105 40h0m-55-23h0m-83 0h0m69 66h0m9 71h0m29-52h0m64-58h0m-202-24h0m120 77h0m-35 25h0m77-35h0m-28 5h0m-19-3h0m-38-4h0m108 42h0m-279 8h0m-21-3h0m24 23h0m61-209h0m-9 38h0m35 129h0m-13-24h0m4 11h0m61-93h0m-17-23h0m151-44h0m-186 98h0m40 128h0m22-176h0m19-12h0m-43 109h0m31-113h0" stroke="#111" stroke-width="7" stroke-linecap="square" stroke-opacity="0.45"/>
<path transform="scale(.1)" d="M2210 5347h0m30 129h0m24-12h0m60 51h0m-84-144h0m112 121h0m-75-74h0m-89 5h0m58-37h0m-27 26h0m79 34h0m-8-86h0m-58 68h0m94-24h0m27 115h0m-177-52h0m162 32h0m-151 35h0m16 38h0m7 26h0m87 8h0m-39-60h0m-26-25h0m-54 24h0m4 21h0m11-82h0m-147 118h0m60 6h0m-86 21h0m25-16h0m-39-178h0m88-80h0m28 190h0m-78 7h0m111 1h0m49-88h0m148-4h0m-87 90h0m-39 40h0m59-88h0m-130-50h0m117 69h0m-146-178h0m92 183h0" stroke="#111" stroke-width="7" stroke-linecap="square" stroke-opacity="0.45"/>
<path transform="scale(.1)" d="M2172 5443h0m48-92h0m56 110h0m-5-89h0m29 62h0m-53 36h0m33-3h0m51-152h0m-133 295h0m-21-161h0m45-31h0m34 9h0m2 43h0m-1-56h0m68-55h0m-36 191h0m-42-7h0m54-37h0m-90 40h0m55-60h0m16 92h0m41-2h0m15 14h0m-63-29h0m44-16h0m-31 47h0m-223-44h0m34 8h0m-13 34h0m-14-219h0m-33 88h0m84-115h0m79 99h0m3 69h0m-71 73h0m32-106h0m-64 55h0m78-54h0m-141-17h0m172-28h0m31 44h0m-141 7h0m123-6h0m-49 45h0" stroke="#111" stroke-width="7" stroke-linecap="square" stroke-opacity="0.45"/>
</g>
<line x1="214.5" y1="527.6" x2="214.5" y2="564.7" stroke="#333" stroke-width="0.7"/>
<line x1="198.4" y1="548.4" x2="235.7" y2="548.4" stroke="#333" stroke-width="0.7"/>
<rect x="198.4" y="527.6" width="37.3" height="37.1" fill="none" stroke="#444" stroke-width="0.8"/>
<text x="194.8" y="532.3" font-size="3.9" fill="#444" stroke="#444" stroke-width="0.1" text-anchor="end">10<tspan dy="-1.1" font-size="2.54">5</tspan></text>
<text x="194.8" y="540.94" font-size="3.9" fill="#444" stroke="#444" stroke-width="0.1" text-anchor="end">10<tspan dy="-1.1" font-size="2.54">4</tspan></text>
<text x="194.8" y="550.33" font-size="3.9" fill="#444" stroke="#444" stroke-width="0.1" text-anchor="end">10<tspan dy="-1.1" font-size="2.54">3</tspan></text>
<text x="194.8" y="558.75" font-size="3.9" fill="#444" stroke="#444" stroke-width="0.1" text-anchor="end">0</text>
<text x="209.28" y="569.7" font-size="3.9" fill="#444" stroke="#444" stroke-width="0.1" text-anchor="end" transform="rotate(-45 209.28 569.7)">0</text>
<text x="219.59" y="569.7" font-size="3.9" fill="#444" stroke="#444" stroke-width="0.1" text-anchor="end" transform="rotate(-45 219.59 569.7)">10<tspan dy="-1.1" font-size="2.54">3</tspan></text>
<text x="229.03" y="569.7" font-size="3.9" fill="#444" stroke="#444" stroke-width="0.1" text-anchor="end" transform="rotate(-45 229.03 569.7)">10<tspan dy="-1.1" font-size="2.54">4</tspan></text>
<text x="238.09" y="569.7" font-size="3.9" fill="#444" stroke="#444" stroke-width="0.1" text-anchor="end" transform="rotate(-45 238.09 569.7)">10<tspan dy="-1.1" font-size="2.54">5</tspan></text>
<clipPath id="c24"><rect x="275.5" y="527.9" width="37" height="36.9"/></clipPath>
<g clip-path="url(#c24)">
<ellipse cx="298.8" cy="556.9" rx="10" ry="5.5" fill="#000" fill-opacity="0.85" filter="url(#g2)"/>
<ellipse cx="280.2" cy="557.3" rx="1.44" ry="2.06" fill="#111" opacity="0.81" filter="url(#bl)"/>
<ellipse cx="280.2" cy="557.3" rx="2.61" ry="3.74" fill="#000" fill-opacity="0.85" filter="url(#g1)"/>
<ellipse cx="281" cy="542" rx="3" ry="7" fill="#000" fill-opacity="0.35" filter="url(#g2)"/>
<ellipse cx="293.6" cy="544.3" rx="6" ry="4" fill="#000" fill-opacity="0.35" filter="url(#g3)"/>
<path transform="scale(.1)" d="M3096 5642h0m-66-53h0m-129 35h0m82-56h0m123-54h0m-147 56h0m-10-42h0m2 42h0m-24 19h0m110-39h0m9 55h0m-40-83h0m107 62h0m-126 12h0m117-20h0m-188 35h0m42-39h0m-97 2h0m-57-4h0m-9 36h0m-13-54h0m32 47h0m35-88h0m-30-83h0m97 4h0m71 51h0m-63-77h0m7-11h0m137 151h0m-250 96h0m6-260h0m90 6h0m-23-3h0m19 72h0m-127 89h0m278-46h0" stroke="#111" stroke-width="7" stroke-linecap="square" stroke-opacity="0.45"/>
<path transform="scale(.1)" d="M3007 5565h0m14-43h0m54 20h0m-168 41h0m24-27h0m119 42h0m-87-38h0m-130 0h0m123 35h0m3 9h0m59-32h0m-179 9h0m107-60h0m17 52h0m52-44h0m-26 47h0m-51-68h0m-116 18h0m-36 107h0m19-42h0m16-28h0m8-58h0m-1 12h0m13-68h0m68 4h0m10 11h0m40-22h0m84-90h0m67 172h0m-233-45h0m-16 22h0m60-170h0m-38 123h0m-61 34h0m19-25h0m103 166h0" stroke="#111" stroke-width="7" stroke-linecap="square" stroke-opacity="0.45"/>
<path transform="scale(.1)" d="M2893 5584h0m136-77h0m-17 111h0m-107-89h0m83 73h0m-39-118h0m-8 25h0m38 9h0m-16-11h0m112 93h0m-86-41h0m-121 21h0m61-9h0m4-21h0m162-13h0m-73 31h0m-84-19h0m12-73h0m-151 73h0m8-5h0m-4 47h0m15-130h0m11-87h0m-35 72h0m188 54h0m-31-61h0m-10 14h0m17 130h0m-96-66h0m5-27h0m220 65h0m-190 40h0m121 25h0m-67-111h0m-65-68h0m28 80h0" stroke="#111" stroke-width="7" stroke-linecap="square" stroke-opacity="0.45"/>
<path transform="scale(.1)" d="M3046 5508h0m54 67h0m-282 35h0m136-92h0m95 39h0m-41 26h0m-43 10h0m-107-7h0m124-31h0m84 33h0m-105-20h0m38 49h0m-166-45h0m22 2h0m193-1h0m-88 15h0m29 30h0m-223-41h0m69 13h0m-14-12h0m-16-48h0m41-125h0m-10 32h0m-10-55h0m164 92h0m-74-46h0m53-3h0m-86 169h0m2-205h0m17 63h0m165 63h0m-119 45h0m-85-104h0m-38 18h0m12-116h0" stroke="#111" stroke-width="7" stroke-linecap="square" stroke-opacity="0.45"/>
</g>
<line x1="291.5" y1="527.9" x2="291.5" y2="564.8" stroke="#333" stroke-width="0.7"/>
<line x1="275.5" y1="548.4" x2="312.5" y2="548.4" stroke="#333" stroke-width="0.7"/>
<rect x="275.5" y="527.9" width="37" height="36.9" fill="none" stroke="#444" stroke-width="0.8"/>
<text x="271.9" y="532.58" font-size="3.9" fill="#444" stroke="#444" stroke-width="0.1" text-anchor="end">10<tspan dy="-1.1" font-size="2.54">5</tspan></text>
<text x="271.9" y="541.18" font-size="3.9" fill="#444" stroke="#444" stroke-width="0.1" text-anchor="end">10<tspan dy="-1.1" font-size="2.54">4</tspan></text>
<text x="271.9" y="550.51" font-size="3.9" fill="#444" stroke="#444" stroke-width="0.1" text-anchor="end">10<tspan dy="-1.1" font-size="2.54">3</tspan></text>
<text x="271.9" y="558.89" font-size="3.9" fill="#444" stroke="#444" stroke-width="0.1" text-anchor="end">0</text>
<text x="286.32" y="569.8" font-size="3.9" fill="#444" stroke="#444" stroke-width="0.1" text-anchor="end" transform="rotate(-45 286.32 569.8)">0</text>
<text x="296.55" y="569.8" font-size="3.9" fill="#444" stroke="#444" stroke-width="0.1" text-anchor="end" transform="rotate(-45 296.55 569.8)">10<tspan dy="-1.1" font-size="2.54">3</tspan></text>
<text x="305.91" y="569.8" font-size="3.9" fill="#444" stroke="#444" stroke-width="0.1" text-anchor="end" transform="rotate(-45 305.91 569.8)">10<tspan dy="-1.1" font-size="2.54">4</tspan></text>
<text x="314.9" y="569.8" font-size="3.9" fill="#444" stroke="#444" stroke-width="0.1" text-anchor="end" transform="rotate(-45 314.9 569.8)">10<tspan dy="-1.1" font-size="2.54">5</tspan></text>
<clipPath id="c25"><rect x="336.9" y="527.6" width="37.4" height="36.9"/></clipPath>
<g clip-path="url(#c25)">
<ellipse cx="360.5" cy="554.5" rx="11" ry="7" fill="#000" fill-opacity="0.8" filter="url(#g3)"/>
<ellipse cx="357" cy="545" rx="8" ry="6" fill="#000" fill-opacity="0.45" filter="url(#g3)"/>
<ellipse cx="348" cy="552" rx="5" ry="8" fill="#000" fill-opacity="0.28" filter="url(#g3)"/>
<path transform="scale(.1)" d="M3609 5609h0m-12-84h0m-127-2h0m37-8h0m83 105h0m-130-106h0m257 56h0m-33-44h0m-200-10h0m179 41h0m-53 49h0m82-15h0m-92-45h0m27 75h0m-74-88h0m136 62h0m38-31h0m-234-49h0m215 23h0m-124 65h0m114-56h0m-50-76h0m-69 1h0m17-28h0m-16 57h0m-32-91h0m33 49h0m14 33h0m86-32h0m-51-49h0m-141-1h0m-18 182h0m-62-54h0m146-19h0m-66 13h0m-55-91h0m281 175h0m-134-217h0m71 81h0m-43 15h0m-88 10h0m74-41h0m-33 46h0m21-86h0" stroke="#111" stroke-width="7" stroke-linecap="square" stroke-opacity="0.45"/>
<path transform="scale(.1)" d="M3649 5563h0m-66-120h0m-127 54h0m97 40h0m94 69h0m48 4h0m-14-58h0m-74 11h0m7-29h0m-8 38h0m6-74h0m16-32h0m-6 3h0m-65 23h0m7 73h0m103-190h0m-108 182h0m42-66h0m-89 63h0m148-58h0m31 71h0m-193 19h0m60-149h0m-84 45h0m119-107h0m-21 82h0m95-115h0m-119 26h0m-22 63h0m67 126h0m40-123h0m-179 191h0m-22-150h0m7-17h0m56 58h0m103-210h0m-44 305h0m20-20h0m18-84h0m-111-60h0m88-76h0m-95 6h0m70 53h0m12 34h0" stroke="#111" stroke-width="7" stroke-linecap="square" stroke-opacity="0.45"/>
<path transform="scale(.1)" d="M3586 5561h0m82-59h0m-86 44h0m-24-44h0m52-45h0m57 35h0m-64 64h0m135 14h0m-123 16h0m-149 27h0m232-56h0m-122-4h0m112 17h0m-44-106h0m-53 53h0m-64 15h0m54-24h0m133-17h0m-58 58h0m9 9h0m44 15h0m-226 51h0m84-123h0m58-66h0m-79 0h0m87 54h0m-69-21h0m-11-69h0m-44 72h0m-19 38h0m-13 58h0m-7-90h0m42-4h0m-63 59h0m44 39h0m44-30h0m142-127h0m-87 69h0m-8 17h0m-66-1h0m-21-92h0m112 126h0m122-180h0m-246 144h0" stroke="#111" stroke-width="7" stroke-linecap="square" stroke-opacity="0.45"/>
<path transform="scale(.1)" d="M3704 5438h0m-115 82h0m23 20h0m-32-6h0m76-19h0m-54-44h0m-150 128h0m160-79h0m33 42h0m-143 29h0m117-39h0m-17 59h0m-16-123h0m-160 37h0m146 56h0m55-118h0m25 61h0m-120 31h0m69-27h0m109 39h0m-85-48h0m-37 43h0m55-51h0m-20 0h0m-17-96h0m-22 49h0m58-60h0m-28 11h0m50 29h0m-19-75h0m-158 169h0m20 14h0m-11-50h0m-13 80h0m155-120h0m-108-46h0m24 1h0m144 16h0m-186 26h0m76 52h0m35-105h0m-29 118h0m-2 13h0m-54-80h0" stroke="#111" stroke-width="7" stroke-linecap="square" stroke-opacity="0.45"/>
</g>
<line x1="352.5" y1="527.6" x2="352.5" y2="564.5" stroke="#333" stroke-width="0.7"/>
<line x1="336.9" y1="549.5" x2="374.3" y2="549.5" stroke="#333" stroke-width="0.7"/>
<rect x="336.9" y="527.6" width="37.4" height="36.9" fill="none" stroke="#444" stroke-width="0.8"/>
<text x="333.3" y="532.28" font-size="3.9" fill="#444" stroke="#444" stroke-width="0.1" text-anchor="end">10<tspan dy="-1.1" font-size="2.54">5</tspan></text>
<text x="333.3" y="540.88" font-size="3.9" fill="#444" stroke="#444" stroke-width="0.1" text-anchor="end">10<tspan dy="-1.1" font-size="2.54">4</tspan></text>
<text x="333.3" y="550.21" font-size="3.9" fill="#444" stroke="#444" stroke-width="0.1" text-anchor="end">10<tspan dy="-1.1" font-size="2.54">3</tspan></text>
<text x="333.3" y="558.59" font-size="3.9" fill="#444" stroke="#444" stroke-width="0.1" text-anchor="end">0</text>
<text x="347.8" y="569.5" font-size="3.9" fill="#444" stroke="#444" stroke-width="0.1" text-anchor="end" transform="rotate(-45 347.8 569.5)">0</text>
<text x="358.14" y="569.5" font-size="3.9" fill="#444" stroke="#444" stroke-width="0.1" text-anchor="end" transform="rotate(-45 358.14 569.5)">10<tspan dy="-1.1" font-size="2.54">3</tspan></text>
<text x="367.6" y="569.5" font-size="3.9" fill="#444" stroke="#444" stroke-width="0.1" text-anchor="end" transform="rotate(-45 367.6 569.5)">10<tspan dy="-1.1" font-size="2.54">4</tspan></text>
<text x="376.69" y="569.5" font-size="3.9" fill="#444" stroke="#444" stroke-width="0.1" text-anchor="end" transform="rotate(-45 376.69 569.5)">10<tspan dy="-1.1" font-size="2.54">5</tspan></text>
<text x="60.8" y="582" font-size="5" fill="#333" stroke="#333" stroke-width="0.12" text-anchor="middle" textLength="30.8" lengthAdjust="spacingAndGlyphs">Comp-APC-A</text>
<text x="139.6" y="582" font-size="5" fill="#333" stroke="#333" stroke-width="0.12" text-anchor="middle" textLength="30.8" lengthAdjust="spacingAndGlyphs">Comp-APC-A</text>
<text x="216.6" y="581.4" font-size="5" fill="#333" stroke="#333" stroke-width="0.12" text-anchor="middle" textLength="30.8" lengthAdjust="spacingAndGlyphs">Comp-APC-A</text>
<text x="28.6" y="546.2" font-size="4.8" fill="#333" stroke="#333" stroke-width="0.06" text-anchor="middle" transform="rotate(-90 28.6 546.2)" textLength="31.3" lengthAdjust="spacingAndGlyphs">Comp-GFP-A</text>
<text x="28.6" y="483.5" font-size="4.8" fill="#333" stroke="#333" stroke-width="0.06" text-anchor="middle" transform="rotate(-90 28.6 483.5)" textLength="31.3" lengthAdjust="spacingAndGlyphs">Comp-GFP-A</text>
<text x="107" y="546.4" font-size="4.8" fill="#333" stroke="#333" stroke-width="0.06" text-anchor="middle" transform="rotate(-90 107 546.4)" textLength="52.3" lengthAdjust="spacingAndGlyphs">Comp-PerCP-Cy-5-5-A</text>
<text x="186" y="546" font-size="4.8" fill="#333" stroke="#333" stroke-width="0.06" text-anchor="middle" transform="rotate(-90 186 546)" textLength="28.3" lengthAdjust="spacingAndGlyphs">Comp-PE-A</text>
<text x="261.8" y="546" font-size="4.8" fill="#333" stroke="#333" stroke-width="0.06" text-anchor="middle" transform="rotate(-90 261.8 546)" textLength="31.3" lengthAdjust="spacingAndGlyphs">Comp-APC-A</text>
<text x="325" y="546.2" font-size="4.8" fill="#333" stroke="#333" stroke-width="0.06" text-anchor="middle" transform="rotate(-90 325 546.2)" textLength="30.4" lengthAdjust="spacingAndGlyphs">Comp-APC-A</text>
<text x="16.6" y="547.4" font-size="7.6" fill="#231f20" stroke="#231f20" stroke-width="0.18" text-anchor="middle" transform="rotate(-90 16.6 547.4)" textLength="12.8" lengthAdjust="spacingAndGlyphs">GFP</text>
<text x="95" y="547.8" font-size="7.6" fill="#231f20" stroke="#231f20" stroke-width="0.18" text-anchor="middle" transform="rotate(-90 95 547.8)" textLength="8" lengthAdjust="spacingAndGlyphs">Kit</text>
<text x="173.2" y="547.7" font-size="7.6" fill="#231f20" stroke="#231f20" stroke-width="0.18" text-anchor="middle" transform="rotate(-90 173.2 547.7)" textLength="10.2" lengthAdjust="spacingAndGlyphs">Gr1</text>
<text x="250" y="547.5" font-size="7.6" fill="#231f20" stroke="#231f20" stroke-width="0.18" text-anchor="middle" transform="rotate(-90 250 547.5)" textLength="15.3" lengthAdjust="spacingAndGlyphs">B220</text>
<text x="42" y="595.3" font-size="7.4" fill="#231f20" stroke="#231f20" stroke-width="0.18" textLength="18.2" lengthAdjust="spacingAndGlyphs">Mac-1</text>
<text x="310.5" y="360.6" font-size="7.6" fill="#231f20" stroke="#231f20" stroke-width="0.18" textLength="21.6" lengthAdjust="spacingAndGlyphs">B6_BM</text>
<text x="310.5" y="422.9" font-size="7.6" fill="#231f20" stroke="#231f20" stroke-width="0.18" textLength="32.3" lengthAdjust="spacingAndGlyphs">B6_Spleen</text>
<text x="310.7" y="486.1" font-size="7.4" fill="#231f20" stroke="#231f20" stroke-width="0.18" textLength="49.5" lengthAdjust="spacingAndGlyphs">B6-M/A9 Spleen</text>
<text x="377.4" y="548.5" font-size="7.5" fill="#231f20" stroke="#231f20" stroke-width="0.18" textLength="51.1" lengthAdjust="spacingAndGlyphs">N<tspan dy="-2.6" font-size="4">-/-</tspan><tspan dy="2.6" font-style="italic">-M/A9</tspan> Spleen</text>
<line x1="21.4" y1="573.3" x2="21.4" y2="403.1" stroke="#44639a" stroke-width="1.1"/>
<path d="M21.4 398.1L19 403.6L21.4 402.4L23.8 403.6z" fill="#44639a"/>
<line x1="99.4" y1="573.1" x2="99.4" y2="403.1" stroke="#44639a" stroke-width="1.1"/>
<path d="M99.4 398.1L97 403.6L99.4 402.4L101.8 403.6z" fill="#44639a"/>
<line x1="178.1" y1="572.4" x2="178.1" y2="403.1" stroke="#44639a" stroke-width="1.1"/>
<path d="M178.1 398.1L175.7 403.6L178.1 402.4L180.5 403.6z" fill="#44639a"/>
<line x1="254.4" y1="572.3" x2="254.4" y2="403.1" stroke="#44639a" stroke-width="1.1"/>
<path d="M254.4 398.1L252 403.6L254.4 402.4L256.8 403.6z" fill="#44639a"/>
<line x1="42" y1="585.6" x2="287" y2="585.6" stroke="#44639a" stroke-width="1.1"/>
<path d="M292 585.6L286.5 583.2L287.7 585.6L286.5 588z" fill="#44639a"/>
<line x1="383.5" y1="352.4" x2="383.5" y2="375.2" stroke="#231f20" stroke-width="1.1"/>
<line x1="383.5" y1="379.6" x2="383.5" y2="447.6" stroke="#231f20" stroke-width="1.1"/>
<line x1="380.6" y1="375.2" x2="387" y2="375.2" stroke="#231f20" stroke-width="0.8"/>
<line x1="380.6" y1="379.6" x2="387" y2="379.6" stroke="#231f20" stroke-width="0.8"/>
<line x1="380.6" y1="356.9" x2="383.5" y2="356.9" stroke="#231f20" stroke-width="0.8"/>
<text x="377.7" y="359" font-size="6.2" fill="#231f20" stroke="#231f20" stroke-width="0.18" text-anchor="end" textLength="9.3" lengthAdjust="spacingAndGlyphs">100</text>
<text x="377.7" y="376.5" font-size="6.2" fill="#231f20" stroke="#231f20" stroke-width="0.18" text-anchor="end">80</text>
<text x="377.7" y="381.7" font-size="6.2" fill="#231f20" stroke="#231f20" stroke-width="0.18" text-anchor="end">60</text>
<line x1="380.6" y1="402.1" x2="383.5" y2="402.1" stroke="#231f20" stroke-width="0.8"/>
<text x="377.7" y="404.2" font-size="6.2" fill="#231f20" stroke="#231f20" stroke-width="0.18" text-anchor="end">40</text>
<line x1="380.6" y1="424.6" x2="383.5" y2="424.6" stroke="#231f20" stroke-width="0.8"/>
<text x="377.7" y="426.7" font-size="6.2" fill="#231f20" stroke="#231f20" stroke-width="0.18" text-anchor="end">20</text>
<line x1="380.6" y1="447" x2="383.5" y2="447" stroke="#231f20" stroke-width="0.8"/>
<text x="377.7" y="449.1" font-size="6.2" fill="#231f20" stroke="#231f20" stroke-width="0.18" text-anchor="end">0</text>
<line x1="383.5" y1="447.1" x2="511.5" y2="447.1" stroke="#231f20" stroke-width="1.1"/>
<line x1="394.4" y1="447" x2="394.4" y2="449.2" stroke="#231f20" stroke-width="0.8"/>
<text x="394.4" y="457.5" font-size="5.6" fill="#231f20" stroke="#231f20" stroke-width="0.18" text-anchor="middle">Kit</text>
<line x1="415.6" y1="447" x2="415.6" y2="449.2" stroke="#231f20" stroke-width="0.8"/>
<text x="415.6" y="457.5" font-size="5.6" fill="#231f20" stroke="#231f20" stroke-width="0.18" text-anchor="middle">Gr-1</text>
<line x1="436.5" y1="447" x2="436.5" y2="449.2" stroke="#231f20" stroke-width="0.8"/>
<text x="436.5" y="457.5" font-size="5.6" fill="#231f20" stroke="#231f20" stroke-width="0.18" text-anchor="middle">Mac-1</text>
<line x1="458.3" y1="447" x2="458.3" y2="449.2" stroke="#231f20" stroke-width="0.8"/>
<text x="458.3" y="457.5" font-size="5.6" fill="#231f20" stroke="#231f20" stroke-width="0.18" text-anchor="middle">B220</text>
<line x1="479.3" y1="447" x2="479.3" y2="449.2" stroke="#231f20" stroke-width="0.8"/>
<text x="479.3" y="457.5" font-size="5.6" fill="#231f20" stroke="#231f20" stroke-width="0.18" text-anchor="middle">CD19</text>
<line x1="500.5" y1="447" x2="500.5" y2="449.2" stroke="#231f20" stroke-width="0.8"/>
<text x="500.5" y="457.5" font-size="5.6" fill="#231f20" stroke="#231f20" stroke-width="0.18" text-anchor="middle">CD3</text>
<text x="361.2" y="397.3" font-size="7.6" fill="#231f20" stroke="#231f20" stroke-width="0.18" text-anchor="middle" transform="rotate(-90 361.2 397.3)" textLength="48.6" lengthAdjust="spacingAndGlyphs">% positive cells</text>
<circle cx="392.5" cy="403.2" r="1.6" fill="#36568e"/>
<circle cx="388.7" cy="405.4" r="1.6" fill="#36568e"/>
<circle cx="390.4" cy="409.3" r="1.6" fill="#36568e"/>
<circle cx="389.6" cy="411.9" r="1.6" fill="#36568e"/>
<circle cx="392.2" cy="415.4" r="1.6" fill="#36568e"/>
<circle cx="388.7" cy="418" r="1.6" fill="#36568e"/>
<circle cx="391" cy="413" r="1.6" fill="#36568e"/>
<circle cx="390.8" cy="407.5" r="1.6" fill="#36568e"/>
<circle cx="398.2" cy="416.2" r="1.6" fill="#aa2638"/>
<circle cx="399.1" cy="418.8" r="1.6" fill="#aa2638"/>
<circle cx="396.5" cy="419.7" r="1.6" fill="#aa2638"/>
<circle cx="400" cy="421.4" r="1.6" fill="#aa2638"/>
<circle cx="400.8" cy="422.3" r="1.6" fill="#aa2638"/>
<circle cx="396.8" cy="425.8" r="1.6" fill="#aa2638"/>
<circle cx="398" cy="420.5" r="1.6" fill="#aa2638"/>
<circle cx="399.6" cy="420" r="1.6" fill="#aa2638"/>
<line x1="388" y1="410.8" x2="393.5" y2="410.8" stroke="#36568e" stroke-width="0.8"/>
<line x1="390.6" y1="406" x2="390.6" y2="415.5" stroke="#36568e" stroke-width="0.7"/>
<line x1="395.6" y1="420.8" x2="401.5" y2="420.8" stroke="#aa2638" stroke-width="0.8"/>
<line x1="398.6" y1="418" x2="398.6" y2="423.6" stroke="#aa2638" stroke-width="0.7"/>
<circle cx="409.5" cy="383.2" r="1.6" fill="#36568e"/>
<circle cx="413" cy="384.6" r="1.6" fill="#36568e"/>
<circle cx="411.3" cy="387.6" r="1.6" fill="#36568e"/>
<circle cx="410.4" cy="390.5" r="1.6" fill="#36568e"/>
<circle cx="409.2" cy="393.6" r="1.6" fill="#36568e"/>
<circle cx="413" cy="396.6" r="1.6" fill="#36568e"/>
<circle cx="411.6" cy="401.1" r="1.6" fill="#36568e"/>
<circle cx="412" cy="389" r="1.6" fill="#36568e"/>
<circle cx="421.7" cy="389.8" r="1.6" fill="#aa2638"/>
<circle cx="418.2" cy="392.8" r="1.6" fill="#aa2638"/>
<circle cx="421.7" cy="394.5" r="1.6" fill="#aa2638"/>
<circle cx="419.1" cy="396.2" r="1.6" fill="#aa2638"/>
<circle cx="420.8" cy="398" r="1.6" fill="#aa2638"/>
<circle cx="421.7" cy="400.2" r="1.6" fill="#aa2638"/>
<circle cx="418.2" cy="403.2" r="1.6" fill="#aa2638"/>
<circle cx="420" cy="395" r="1.6" fill="#aa2638"/>
<line x1="409" y1="390.8" x2="414.5" y2="390.8" stroke="#36568e" stroke-width="0.8"/>
<line x1="411.6" y1="386" x2="411.6" y2="395.5" stroke="#36568e" stroke-width="0.7"/>
<line x1="417.2" y1="396.6" x2="422.7" y2="396.6" stroke="#aa2638" stroke-width="0.8"/>
<circle cx="432.1" cy="363.2" r="1.6" fill="#36568e"/>
<circle cx="433.8" cy="364.1" r="1.6" fill="#36568e"/>
<circle cx="431.2" cy="365.5" r="1.6" fill="#36568e"/>
<circle cx="435.2" cy="369.3" r="1.6" fill="#36568e"/>
<circle cx="431.6" cy="371.4" r="1.6" fill="#36568e"/>
<circle cx="434" cy="366.5" r="1.6" fill="#36568e"/>
<circle cx="432.5" cy="367.5" r="1.6" fill="#36568e"/>
<circle cx="440.8" cy="360.6" r="1.6" fill="#aa2638"/>
<circle cx="441.7" cy="362.4" r="1.6" fill="#aa2638"/>
<circle cx="439.9" cy="365" r="1.6" fill="#aa2638"/>
<circle cx="442.5" cy="365" r="1.6" fill="#aa2638"/>
<circle cx="439.1" cy="367.2" r="1.6" fill="#aa2638"/>
<circle cx="441.1" cy="368.5" r="1.6" fill="#aa2638"/>
<circle cx="440.5" cy="366" r="1.6" fill="#aa2638"/>
<circle cx="453.9" cy="439.3" r="1.6" fill="#36568e"/>
<circle cx="452.9" cy="442.3" r="1.6" fill="#36568e"/>
<circle cx="454.9" cy="443.3" r="1.6" fill="#36568e"/>
<circle cx="451.9" cy="445.2" r="1.6" fill="#36568e"/>
<circle cx="455.9" cy="445.2" r="1.6" fill="#36568e"/>
<circle cx="453.9" cy="445.6" r="1.6" fill="#36568e"/>
<circle cx="453" cy="444" r="1.6" fill="#36568e"/>
<circle cx="464.2" cy="423.8" r="1.6" fill="#aa2638"/>
<circle cx="460.8" cy="426.8" r="1.6" fill="#aa2638"/>
<circle cx="462.2" cy="432.3" r="1.6" fill="#aa2638"/>
<circle cx="460.8" cy="436.7" r="1.6" fill="#aa2638"/>
<circle cx="464.2" cy="436.7" r="1.6" fill="#aa2638"/>
<circle cx="462.2" cy="441.3" r="1.6" fill="#aa2638"/>
<circle cx="461.8" cy="445.2" r="1.6" fill="#aa2638"/>
<circle cx="472.8" cy="445.4" r="1.6" fill="#36568e"/>
<circle cx="474.5" cy="445.2" r="1.6" fill="#36568e"/>
<circle cx="476.2" cy="445.3" r="1.6" fill="#36568e"/>
<circle cx="477.7" cy="445.5" r="1.6" fill="#36568e"/>
<circle cx="475" cy="444.6" r="1.6" fill="#36568e"/>
<circle cx="480.7" cy="444" r="1.6" fill="#aa2638"/>
<circle cx="482.5" cy="443.3" r="1.6" fill="#aa2638"/>
<circle cx="484.2" cy="443.6" r="1.6" fill="#aa2638"/>
<circle cx="485.7" cy="444.2" r="1.6" fill="#aa2638"/>
<circle cx="483" cy="444.8" r="1.6" fill="#aa2638"/>
<circle cx="496.6" cy="443.9" r="1.6" fill="#36568e"/>
<circle cx="497.6" cy="445.4" r="1.6" fill="#36568e"/>
<circle cx="498.2" cy="444.5" r="1.6" fill="#36568e"/>
<circle cx="503.8" cy="443.6" r="1.6" fill="#aa2638"/>
<circle cx="505.2" cy="443.6" r="1.6" fill="#aa2638"/>
<circle cx="504.5" cy="445.2" r="1.6" fill="#aa2638"/>
<circle cx="503.8" cy="445" r="1.6" fill="#aa2638"/>
<circle cx="505.3" cy="445" r="1.6" fill="#aa2638"/>
<line x1="389.6" y1="398.8" x2="398.2" y2="398.8" stroke="#333" stroke-width="0.9"/>
<line x1="389.6" y1="397.3" x2="389.6" y2="400.3" stroke="#333" stroke-width="0.9"/>
<line x1="398.2" y1="397.3" x2="398.2" y2="400.3" stroke="#333" stroke-width="0.9"/>
<text x="393.9" y="394.9" font-size="4.6" fill="#3a3a3a" stroke="#3a3a3a" stroke-width="0.07" text-anchor="middle">p=0.006</text>
<line x1="411.6" y1="377.7" x2="419.6" y2="377.7" stroke="#333" stroke-width="0.9"/>
<line x1="411.6" y1="376.2" x2="411.6" y2="379.2" stroke="#333" stroke-width="0.9"/>
<line x1="419.6" y1="376.2" x2="419.6" y2="379.2" stroke="#333" stroke-width="0.9"/>
<text x="415.6" y="374.4" font-size="4.6" fill="#3a3a3a" stroke="#3a3a3a" stroke-width="0.07" text-anchor="middle">p=0.04</text>
<circle cx="472.8" cy="358.5" r="1.4" fill="#36568e"/>
<circle cx="472.8" cy="365.4" r="1.4" fill="#aa2638"/>
<text x="477.3" y="360.2" font-size="4.8" fill="#333" stroke="#333" stroke-width="0.1" textLength="20.5" lengthAdjust="spacingAndGlyphs">B6-<tspan font-style="italic">M/A9</tspan></text>
<text x="477.3" y="367.1" font-size="4.8" fill="#333" stroke="#333" stroke-width="0.1" textLength="22" lengthAdjust="spacingAndGlyphs">N<tspan dy="-1.7" font-size="2.8">-/-</tspan><tspan dy="1.7" font-style="italic">-M/A9</tspan></text>
</svg></body></html>
